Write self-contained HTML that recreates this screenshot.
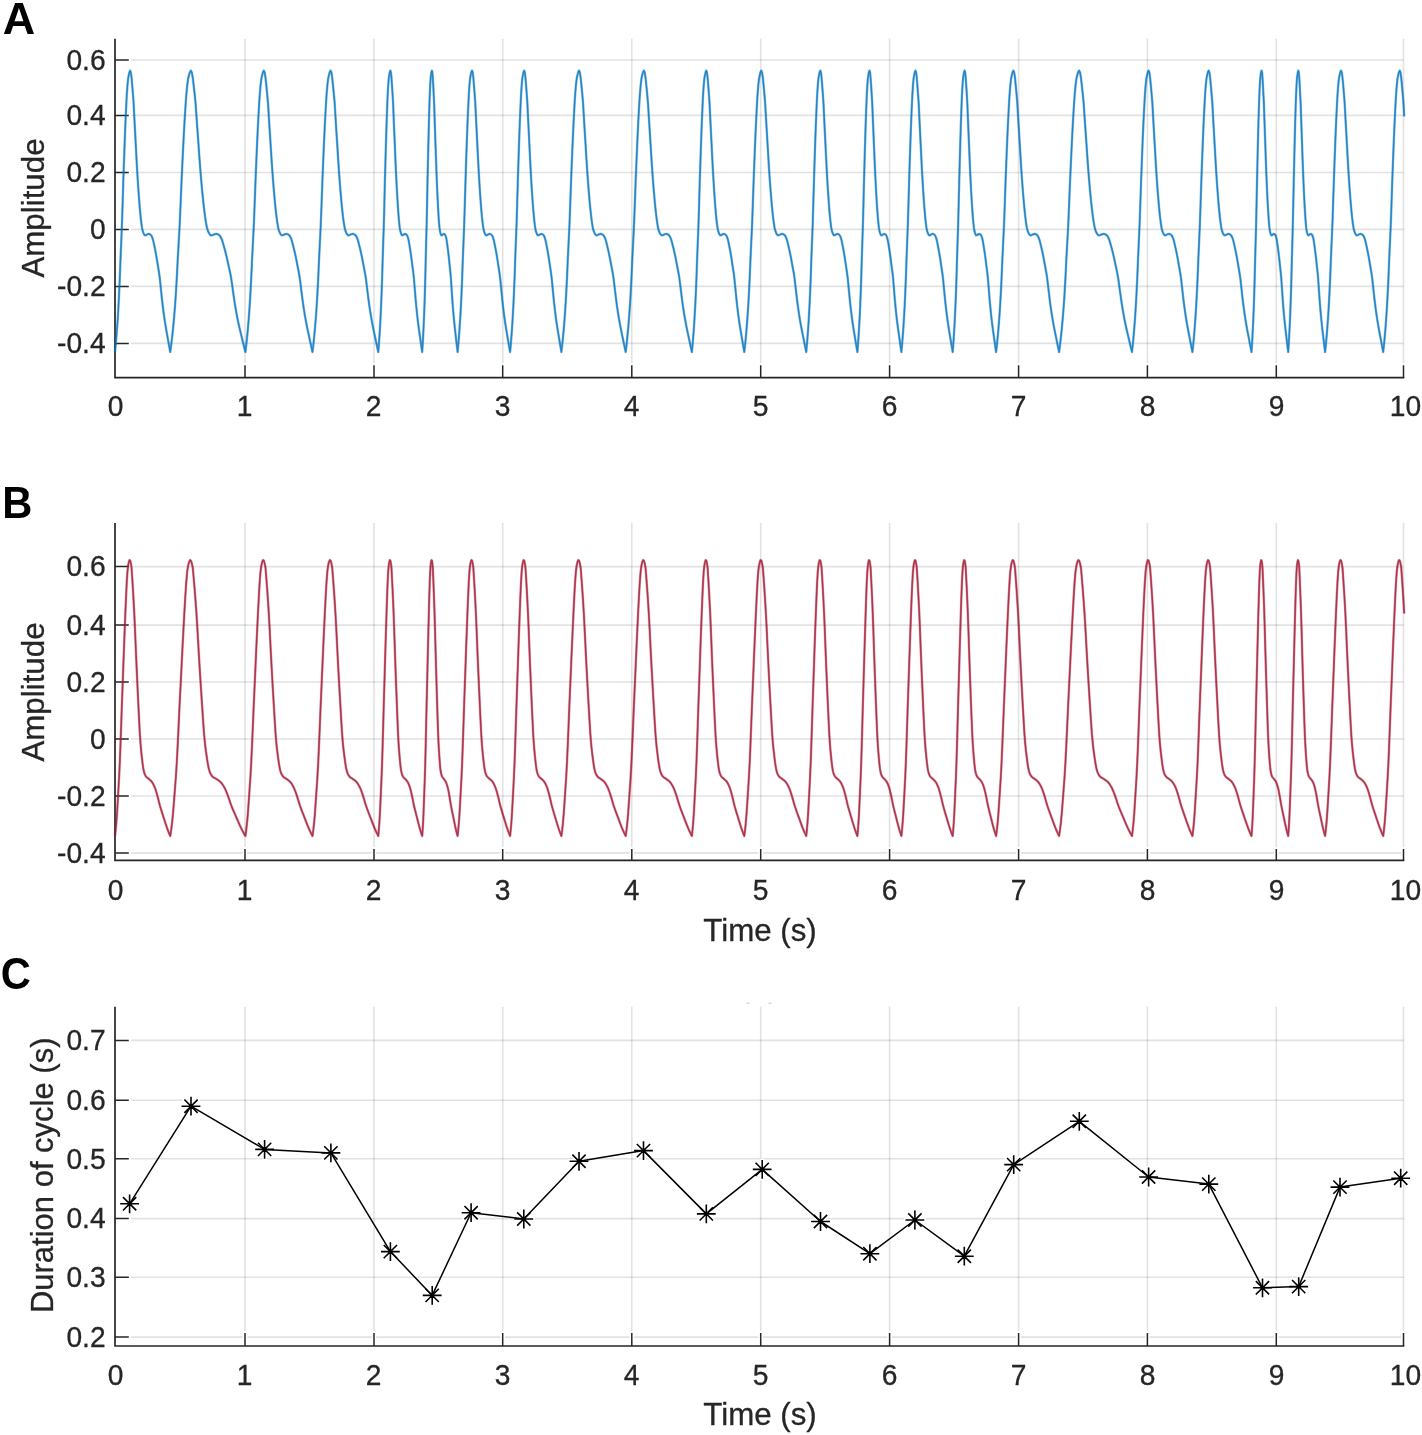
<!DOCTYPE html>
<html><head><meta charset="utf-8"><title>Figure</title>
<style>
html,body{margin:0;padding:0;background:#fff;}
body{width:1422px;height:1435px;overflow:hidden;}
svg{display:block;will-change:transform;font-family:"Liberation Sans",sans-serif;}
</style></head><body>
<svg width="1422" height="1435" viewBox="0 0 1422 1435">
<rect width="1422" height="1435" fill="#fff"/>
<path d="M245.00,38.70V377.70M374.00,38.70V377.70M502.70,38.70V377.70M631.80,38.70V377.70M760.70,38.70V377.70M889.60,38.70V377.70M1018.60,38.70V377.70M1147.40,38.70V377.70M1276.30,38.70V377.70M1403.50,38.70V377.70" fill="none" stroke="#262626" stroke-opacity="0.135" stroke-width="1.6"/>
<path d="M115.00,60.00H1403.50M115.00,115.40H1403.50M115.00,172.50H1403.50M115.00,229.40H1403.50M115.00,286.40H1403.50M115.00,343.40H1403.50" fill="none" stroke="#262626" stroke-opacity="0.135" stroke-width="1.6"/>
<path d="M245.00,377.70V363.20M374.00,377.70V363.20M502.70,377.70V363.20M631.80,377.70V363.20M760.70,377.70V363.20M889.60,377.70V363.20M1018.60,377.70V363.20M1147.40,377.70V363.20M1276.30,377.70V363.20M1403.50,377.70V363.20M115.00,60.00H131.20M115.00,115.40H131.20M115.00,172.50H131.20M115.00,229.40H131.20M115.00,286.40H131.20M115.00,343.40H131.20" fill="none" stroke="#fff" stroke-width="4.6"/>
<path d="M245.00,377.70V365.20M374.00,377.70V365.20M502.70,377.70V365.20M631.80,377.70V365.20M760.70,377.70V365.20M889.60,377.70V365.20M1018.60,377.70V365.20M1147.40,377.70V365.20M1276.30,377.70V365.20M1403.50,377.70V365.20M115.00,60.00H128.80M115.00,115.40H128.80M115.00,172.50H128.80M115.00,229.40H128.80M115.00,286.40H128.80M115.00,343.40H128.80" fill="none" stroke="#262626" stroke-width="1.5"/>
<path d="M115.00,38.70V377.70H1404.30" fill="none" stroke="#262626" stroke-width="1.7" stroke-linejoin="miter"/>
<text transform="translate(115.50,416.20) scale(1,1.04)" text-anchor="middle" font-size="28.2" fill="#262626" stroke="#262626" stroke-width="0.3">0</text>
<text transform="translate(244.50,416.20) scale(1,1.04)" text-anchor="middle" font-size="28.2" fill="#262626" stroke="#262626" stroke-width="0.3">1</text>
<text transform="translate(373.50,416.20) scale(1,1.04)" text-anchor="middle" font-size="28.2" fill="#262626" stroke="#262626" stroke-width="0.3">2</text>
<text transform="translate(502.50,416.20) scale(1,1.04)" text-anchor="middle" font-size="28.2" fill="#262626" stroke="#262626" stroke-width="0.3">3</text>
<text transform="translate(631.50,416.20) scale(1,1.04)" text-anchor="middle" font-size="28.2" fill="#262626" stroke="#262626" stroke-width="0.3">4</text>
<text transform="translate(760.50,416.20) scale(1,1.04)" text-anchor="middle" font-size="28.2" fill="#262626" stroke="#262626" stroke-width="0.3">5</text>
<text transform="translate(889.50,416.20) scale(1,1.04)" text-anchor="middle" font-size="28.2" fill="#262626" stroke="#262626" stroke-width="0.3">6</text>
<text transform="translate(1018.50,416.20) scale(1,1.04)" text-anchor="middle" font-size="28.2" fill="#262626" stroke="#262626" stroke-width="0.3">7</text>
<text transform="translate(1147.50,416.20) scale(1,1.04)" text-anchor="middle" font-size="28.2" fill="#262626" stroke="#262626" stroke-width="0.3">8</text>
<text transform="translate(1276.50,416.20) scale(1,1.04)" text-anchor="middle" font-size="28.2" fill="#262626" stroke="#262626" stroke-width="0.3">9</text>
<text transform="translate(1405.50,416.20) scale(1,1.04)" text-anchor="middle" font-size="28.2" fill="#262626" stroke="#262626" stroke-width="0.3">10</text>
<text transform="translate(105.60,69.80) scale(1,1.04)" text-anchor="end" font-size="28.2" fill="#262626" stroke="#262626" stroke-width="0.3">0.6</text>
<text transform="translate(105.60,125.20) scale(1,1.04)" text-anchor="end" font-size="28.2" fill="#262626" stroke="#262626" stroke-width="0.3">0.4</text>
<text transform="translate(105.60,182.30) scale(1,1.04)" text-anchor="end" font-size="28.2" fill="#262626" stroke="#262626" stroke-width="0.3">0.2</text>
<text transform="translate(105.60,239.20) scale(1,1.04)" text-anchor="end" font-size="28.2" fill="#262626" stroke="#262626" stroke-width="0.3">0</text>
<text transform="translate(105.60,296.20) scale(1,1.04)" text-anchor="end" font-size="28.2" fill="#262626" stroke="#262626" stroke-width="0.3">-0.2</text>
<text transform="translate(105.60,353.20) scale(1,1.04)" text-anchor="end" font-size="28.2" fill="#262626" stroke="#262626" stroke-width="0.3">-0.4</text>
<defs><path id="cA" d="M115.00,352.00 L115.69,345.02 L116.38,337.09 L117.07,328.32 L117.76,318.43 L118.45,306.90 L119.14,293.37 L119.83,277.42 L120.53,258.61 L121.22,242.26 L121.91,225.78 L122.60,204.47 L123.29,181.88 L123.98,161.72 L124.67,142.63 L125.36,125.00 L126.05,109.54 L126.74,95.97 L127.43,85.81 L128.12,78.77 L128.81,74.94 L129.50,72.03 L130.19,70.64 L130.88,72.53 L131.57,77.96 L132.27,85.85 L132.96,94.46 L133.65,103.63 L134.34,117.64 L135.03,130.64 L135.72,143.63 L136.41,156.84 L137.10,169.40 L137.79,180.73 L138.48,191.04 L139.17,200.29 L139.86,208.87 L140.55,216.23 L141.24,222.33 L141.93,227.38 L142.62,230.64 L143.32,232.70 L144.01,234.15 L144.70,235.20 L145.39,235.36 L146.08,235.05 L146.77,234.64 L147.46,234.32 L148.15,234.02 L148.84,233.90 L149.53,234.07 L150.22,234.48 L150.91,235.03 L151.60,236.00 L152.29,237.63 L152.98,239.69 L153.68,242.62 L154.37,245.93 L155.06,249.28 L155.75,252.87 L156.44,256.72 L157.13,260.92 L157.82,265.28 L158.51,269.47 L159.20,273.76 L159.89,279.02 L160.58,285.78 L161.27,292.49 L161.96,299.18 L162.65,305.20 L163.34,310.67 L164.03,315.76 L164.72,320.51 L165.42,324.92 L166.11,329.02 L166.80,332.94 L167.49,336.78 L168.18,340.66 L168.87,344.50 L169.56,348.28 L170.25,352.00 L171.19,345.02 L172.13,337.09 L173.07,328.32 L174.01,318.43 L174.95,306.90 L175.89,293.37 L176.83,277.42 L177.76,258.61 L178.70,242.26 L179.64,225.78 L180.58,204.47 L181.52,181.88 L182.46,161.72 L183.40,142.63 L184.34,125.00 L185.28,109.54 L186.22,95.97 L187.16,85.81 L188.10,78.77 L189.04,74.94 L189.98,72.03 L190.92,70.64 L191.86,72.53 L192.80,77.96 L193.73,85.85 L194.67,94.46 L195.61,103.63 L196.55,117.64 L197.49,130.64 L198.43,143.63 L199.37,156.84 L200.31,169.40 L201.25,180.73 L202.19,191.04 L203.13,200.29 L204.07,208.87 L205.01,216.23 L205.95,222.33 L206.89,227.38 L207.82,230.64 L208.76,232.70 L209.70,234.15 L210.64,235.20 L211.58,235.36 L212.52,235.05 L213.46,234.64 L214.40,234.32 L215.34,234.02 L216.28,233.90 L217.22,234.07 L218.16,234.48 L219.10,235.03 L220.04,236.00 L220.98,237.63 L221.92,239.69 L222.86,242.62 L223.79,245.93 L224.73,249.28 L225.67,252.87 L226.61,256.72 L227.55,260.92 L228.49,265.28 L229.43,269.47 L230.37,273.76 L231.31,279.02 L232.25,285.78 L233.19,292.49 L234.13,299.18 L235.07,305.20 L236.01,310.67 L236.95,315.76 L237.88,320.51 L238.82,324.92 L239.76,329.02 L240.70,332.94 L241.64,336.78 L242.58,340.66 L243.52,344.50 L244.46,348.28 L245.40,352.00 L246.24,345.02 L247.08,337.09 L247.92,328.32 L248.75,318.43 L249.59,306.90 L250.43,293.37 L251.27,277.42 L252.11,258.61 L252.95,242.26 L253.79,225.78 L254.63,204.47 L255.47,181.88 L256.30,161.72 L257.14,142.63 L257.98,125.00 L258.82,109.54 L259.66,95.97 L260.50,85.81 L261.34,78.77 L262.18,74.94 L263.01,72.03 L263.85,70.64 L264.69,72.53 L265.53,77.96 L266.37,85.85 L267.21,94.46 L268.05,103.63 L268.88,117.64 L269.72,130.64 L270.56,143.63 L271.40,156.84 L272.24,169.40 L273.08,180.73 L273.92,191.04 L274.76,200.29 L275.60,208.87 L276.43,216.23 L277.27,222.33 L278.11,227.38 L278.95,230.64 L279.79,232.70 L280.63,234.15 L281.47,235.20 L282.31,235.36 L283.14,235.05 L283.98,234.64 L284.82,234.32 L285.66,234.02 L286.50,233.90 L287.34,234.07 L288.18,234.48 L289.01,235.03 L289.85,236.00 L290.69,237.63 L291.53,239.69 L292.37,242.62 L293.21,245.93 L294.05,249.28 L294.89,252.87 L295.73,256.72 L296.56,260.92 L297.40,265.28 L298.24,269.47 L299.08,273.76 L299.92,279.02 L300.76,285.78 L301.60,292.49 L302.44,299.18 L303.27,305.20 L304.11,310.67 L304.95,315.76 L305.79,320.51 L306.63,324.92 L307.47,329.02 L308.31,332.94 L309.14,336.78 L309.98,340.66 L310.82,344.50 L311.66,348.28 L312.50,352.00 L313.32,345.02 L314.14,337.09 L314.97,328.32 L315.79,318.43 L316.61,306.90 L317.44,293.37 L318.26,277.42 L319.08,258.61 L319.90,242.26 L320.73,225.78 L321.55,204.47 L322.37,181.88 L323.19,161.72 L324.01,142.63 L324.84,125.00 L325.66,109.54 L326.48,95.97 L327.31,85.81 L328.13,78.77 L328.95,74.94 L329.77,72.03 L330.60,70.64 L331.42,72.53 L332.24,77.96 L333.06,85.85 L333.88,94.46 L334.71,103.63 L335.53,117.64 L336.35,130.64 L337.18,143.63 L338.00,156.84 L338.82,169.40 L339.64,180.73 L340.47,191.04 L341.29,200.29 L342.11,208.87 L342.93,216.23 L343.75,222.33 L344.58,227.38 L345.40,230.64 L346.22,232.70 L347.05,234.15 L347.87,235.20 L348.69,235.36 L349.51,235.05 L350.34,234.64 L351.16,234.32 L351.98,234.02 L352.80,233.90 L353.62,234.07 L354.45,234.48 L355.27,235.03 L356.09,236.00 L356.92,237.63 L357.74,239.69 L358.56,242.62 L359.38,245.93 L360.21,249.28 L361.03,252.87 L361.85,256.72 L362.67,260.92 L363.50,265.28 L364.32,269.47 L365.14,273.76 L365.96,279.02 L366.79,285.78 L367.61,292.49 L368.43,299.18 L369.25,305.20 L370.07,310.67 L370.90,315.76 L371.72,320.51 L372.54,324.92 L373.37,329.02 L374.19,332.94 L375.01,336.78 L375.83,340.66 L376.66,344.50 L377.48,348.28 L378.30,352.00 L378.85,345.02 L379.40,337.09 L379.95,328.32 L380.50,318.43 L381.04,306.90 L381.59,293.37 L382.14,277.42 L382.69,258.61 L383.24,242.26 L383.79,225.78 L384.34,204.47 L384.88,181.88 L385.43,161.72 L385.98,142.63 L386.53,125.00 L387.08,109.54 L387.63,95.97 L388.18,85.81 L388.73,78.77 L389.27,74.94 L389.82,72.03 L390.37,70.64 L390.92,72.53 L391.47,77.96 L392.02,85.85 L392.57,94.46 L393.12,103.63 L393.67,117.64 L394.21,130.64 L394.76,143.63 L395.31,156.84 L395.86,169.40 L396.41,180.73 L396.96,191.04 L397.51,200.29 L398.06,208.87 L398.60,216.23 L399.15,222.33 L399.70,227.38 L400.25,230.64 L400.80,232.70 L401.35,234.15 L401.90,235.20 L402.44,235.36 L402.99,235.05 L403.54,234.64 L404.09,234.32 L404.64,234.02 L405.19,233.90 L405.74,234.07 L406.29,234.48 L406.83,235.03 L407.38,236.00 L407.93,237.63 L408.48,239.69 L409.03,242.62 L409.58,245.93 L410.13,249.28 L410.68,252.87 L411.23,256.72 L411.77,260.92 L412.32,265.28 L412.87,269.47 L413.42,273.76 L413.97,279.02 L414.52,285.78 L415.07,292.49 L415.62,299.18 L416.16,305.20 L416.71,310.67 L417.26,315.76 L417.81,320.51 L418.36,324.92 L418.91,329.02 L419.46,332.94 L420.00,336.78 L420.55,340.66 L421.10,344.50 L421.65,348.28 L422.20,352.00 L422.64,345.02 L423.08,337.09 L423.53,328.32 L423.97,318.43 L424.41,306.90 L424.86,293.37 L425.30,277.42 L425.74,258.61 L426.18,242.26 L426.62,225.78 L427.07,204.47 L427.51,181.88 L427.95,161.72 L428.39,142.63 L428.84,125.00 L429.28,109.54 L429.72,95.97 L430.17,85.81 L430.61,78.77 L431.05,74.94 L431.49,72.03 L431.94,70.64 L432.38,72.53 L432.82,77.96 L433.26,85.85 L433.70,94.46 L434.15,103.63 L434.59,117.64 L435.03,130.64 L435.48,143.63 L435.92,156.84 L436.36,169.40 L436.80,180.73 L437.25,191.04 L437.69,200.29 L438.13,208.87 L438.57,216.23 L439.01,222.33 L439.46,227.38 L439.90,230.64 L440.34,232.70 L440.79,234.15 L441.23,235.20 L441.67,235.36 L442.11,235.05 L442.56,234.64 L443.00,234.32 L443.44,234.02 L443.88,233.90 L444.32,234.07 L444.77,234.48 L445.21,235.03 L445.65,236.00 L446.10,237.63 L446.54,239.69 L446.98,242.62 L447.42,245.93 L447.87,249.28 L448.31,252.87 L448.75,256.72 L449.19,260.92 L449.63,265.28 L450.08,269.47 L450.52,273.76 L450.96,279.02 L451.41,285.78 L451.85,292.49 L452.29,299.18 L452.73,305.20 L453.18,310.67 L453.62,315.76 L454.06,320.51 L454.50,324.92 L454.95,329.02 L455.39,332.94 L455.83,336.78 L456.27,340.66 L456.72,344.50 L457.16,348.28 L457.60,352.00 L458.26,345.02 L458.91,337.09 L459.57,328.32 L460.23,318.43 L460.88,306.90 L461.54,293.37 L462.19,277.42 L462.85,258.61 L463.51,242.26 L464.16,225.78 L464.82,204.47 L465.48,181.88 L466.13,161.72 L466.79,142.63 L467.44,125.00 L468.10,109.54 L468.76,95.97 L469.41,85.81 L470.07,78.77 L470.73,74.94 L471.38,72.03 L472.04,70.64 L472.69,72.53 L473.35,77.96 L474.01,85.85 L474.66,94.46 L475.32,103.63 L475.98,117.64 L476.63,130.64 L477.29,143.63 L477.94,156.84 L478.60,169.40 L479.26,180.73 L479.91,191.04 L480.57,200.29 L481.23,208.87 L481.88,216.23 L482.54,222.33 L483.19,227.38 L483.85,230.64 L484.51,232.70 L485.16,234.15 L485.82,235.20 L486.48,235.36 L487.13,235.05 L487.79,234.64 L488.44,234.32 L489.10,234.02 L489.76,233.90 L490.41,234.07 L491.07,234.48 L491.73,235.03 L492.38,236.00 L493.04,237.63 L493.69,239.69 L494.35,242.62 L495.01,245.93 L495.66,249.28 L496.32,252.87 L496.98,256.72 L497.63,260.92 L498.29,265.28 L498.94,269.47 L499.60,273.76 L500.26,279.02 L500.91,285.78 L501.57,292.49 L502.23,299.18 L502.88,305.20 L503.54,310.67 L504.19,315.76 L504.85,320.51 L505.51,324.92 L506.16,329.02 L506.82,332.94 L507.48,336.78 L508.13,340.66 L508.79,344.50 L509.44,348.28 L510.10,352.00 L510.74,345.02 L511.38,337.09 L512.02,328.32 L512.66,318.43 L513.31,306.90 L513.95,293.37 L514.59,277.42 L515.23,258.61 L515.87,242.26 L516.51,225.78 L517.15,204.47 L517.80,181.88 L518.44,161.72 L519.08,142.63 L519.72,125.00 L520.36,109.54 L521.00,95.97 L521.64,85.81 L522.28,78.77 L522.92,74.94 L523.57,72.03 L524.21,70.64 L524.85,72.53 L525.49,77.96 L526.13,85.85 L526.77,94.46 L527.41,103.63 L528.06,117.64 L528.70,130.64 L529.34,143.63 L529.98,156.84 L530.62,169.40 L531.26,180.73 L531.90,191.04 L532.54,200.29 L533.18,208.87 L533.83,216.23 L534.47,222.33 L535.11,227.38 L535.75,230.64 L536.39,232.70 L537.03,234.15 L537.67,235.20 L538.32,235.36 L538.96,235.05 L539.60,234.64 L540.24,234.32 L540.88,234.02 L541.52,233.90 L542.16,234.07 L542.80,234.48 L543.44,235.03 L544.09,236.00 L544.73,237.63 L545.37,239.69 L546.01,242.62 L546.65,245.93 L547.29,249.28 L547.93,252.87 L548.58,256.72 L549.22,260.92 L549.86,265.28 L550.50,269.47 L551.14,273.76 L551.78,279.02 L552.42,285.78 L553.06,292.49 L553.71,299.18 L554.35,305.20 L554.99,310.67 L555.63,315.76 L556.27,320.51 L556.91,324.92 L557.55,329.02 L558.19,332.94 L558.84,336.78 L559.48,340.66 L560.12,344.50 L560.76,348.28 L561.40,352.00 L562.20,345.02 L563.01,337.09 L563.81,328.32 L564.62,318.43 L565.42,306.90 L566.22,293.37 L567.03,277.42 L567.83,258.61 L568.63,242.26 L569.44,225.78 L570.24,204.47 L571.04,181.88 L571.85,161.72 L572.65,142.63 L573.46,125.00 L574.26,109.54 L575.06,95.97 L575.87,85.81 L576.67,78.77 L577.48,74.94 L578.28,72.03 L579.08,70.64 L579.89,72.53 L580.69,77.96 L581.49,85.85 L582.30,94.46 L583.10,103.63 L583.90,117.64 L584.71,130.64 L585.51,143.63 L586.32,156.84 L587.12,169.40 L587.92,180.73 L588.73,191.04 L589.53,200.29 L590.34,208.87 L591.14,216.23 L591.94,222.33 L592.75,227.38 L593.55,230.64 L594.35,232.70 L595.16,234.15 L595.96,235.20 L596.76,235.36 L597.57,235.05 L598.37,234.64 L599.18,234.32 L599.98,234.02 L600.78,233.90 L601.59,234.07 L602.39,234.48 L603.20,235.03 L604.00,236.00 L604.80,237.63 L605.61,239.69 L606.41,242.62 L607.21,245.93 L608.02,249.28 L608.82,252.87 L609.62,256.72 L610.43,260.92 L611.23,265.28 L612.04,269.47 L612.84,273.76 L613.64,279.02 L614.45,285.78 L615.25,292.49 L616.06,299.18 L616.86,305.20 L617.66,310.67 L618.47,315.76 L619.27,320.51 L620.07,324.92 L620.88,329.02 L621.68,332.94 L622.49,336.78 L623.29,340.66 L624.09,344.50 L624.90,348.28 L625.70,352.00 L626.53,345.02 L627.36,337.09 L628.18,328.32 L629.01,318.43 L629.84,306.90 L630.67,293.37 L631.49,277.42 L632.32,258.61 L633.15,242.26 L633.98,225.78 L634.80,204.47 L635.63,181.88 L636.46,161.72 L637.29,142.63 L638.11,125.00 L638.94,109.54 L639.77,95.97 L640.60,85.81 L641.42,78.77 L642.25,74.94 L643.08,72.03 L643.90,70.64 L644.73,72.53 L645.56,77.96 L646.39,85.85 L647.22,94.46 L648.04,103.63 L648.87,117.64 L649.70,130.64 L650.52,143.63 L651.35,156.84 L652.18,169.40 L653.01,180.73 L653.84,191.04 L654.66,200.29 L655.49,208.87 L656.32,216.23 L657.14,222.33 L657.97,227.38 L658.80,230.64 L659.63,232.70 L660.46,234.15 L661.28,235.20 L662.11,235.36 L662.94,235.05 L663.76,234.64 L664.59,234.32 L665.42,234.02 L666.25,233.90 L667.08,234.07 L667.90,234.48 L668.73,235.03 L669.56,236.00 L670.38,237.63 L671.21,239.69 L672.04,242.62 L672.87,245.93 L673.70,249.28 L674.52,252.87 L675.35,256.72 L676.18,260.92 L677.00,265.28 L677.83,269.47 L678.66,273.76 L679.49,279.02 L680.31,285.78 L681.14,292.49 L681.97,299.18 L682.80,305.20 L683.62,310.67 L684.45,315.76 L685.28,320.51 L686.11,324.92 L686.93,329.02 L687.76,332.94 L688.59,336.78 L689.42,340.66 L690.25,344.50 L691.07,348.28 L691.90,352.00 L692.55,345.02 L693.21,337.09 L693.87,328.32 L694.52,318.43 L695.17,306.90 L695.83,293.37 L696.49,277.42 L697.14,258.61 L697.79,242.26 L698.45,225.78 L699.11,204.47 L699.76,181.88 L700.41,161.72 L701.07,142.63 L701.73,125.00 L702.38,109.54 L703.03,95.97 L703.69,85.81 L704.35,78.77 L705.00,74.94 L705.65,72.03 L706.31,70.64 L706.96,72.53 L707.62,77.96 L708.27,85.85 L708.93,94.46 L709.58,103.63 L710.24,117.64 L710.89,130.64 L711.55,143.63 L712.20,156.84 L712.86,169.40 L713.51,180.73 L714.17,191.04 L714.82,200.29 L715.48,208.87 L716.13,216.23 L716.79,222.33 L717.44,227.38 L718.10,230.64 L718.75,232.70 L719.41,234.15 L720.06,235.20 L720.72,235.36 L721.38,235.05 L722.03,234.64 L722.68,234.32 L723.34,234.02 L724.00,233.90 L724.65,234.07 L725.30,234.48 L725.96,235.03 L726.62,236.00 L727.27,237.63 L727.92,239.69 L728.58,242.62 L729.24,245.93 L729.89,249.28 L730.54,252.87 L731.20,256.72 L731.86,260.92 L732.51,265.28 L733.16,269.47 L733.82,273.76 L734.47,279.02 L735.13,285.78 L735.78,292.49 L736.44,299.18 L737.09,305.20 L737.75,310.67 L738.40,315.76 L739.06,320.51 L739.71,324.92 L740.37,329.02 L741.02,332.94 L741.68,336.78 L742.33,340.66 L742.99,344.50 L743.64,348.28 L744.30,352.00 L745.07,345.02 L745.85,337.09 L746.62,328.32 L747.40,318.43 L748.17,306.90 L748.95,293.37 L749.72,277.42 L750.50,258.61 L751.27,242.26 L752.04,225.78 L752.82,204.47 L753.59,181.88 L754.37,161.72 L755.14,142.63 L755.92,125.00 L756.69,109.54 L757.46,95.97 L758.24,85.81 L759.01,78.77 L759.79,74.94 L760.56,72.03 L761.34,70.64 L762.11,72.53 L762.88,77.96 L763.66,85.85 L764.43,94.46 L765.21,103.63 L765.98,117.64 L766.76,130.64 L767.53,143.63 L768.31,156.84 L769.08,169.40 L769.85,180.73 L770.63,191.04 L771.40,200.29 L772.18,208.87 L772.95,216.23 L773.73,222.33 L774.50,227.38 L775.27,230.64 L776.05,232.70 L776.82,234.15 L777.60,235.20 L778.37,235.36 L779.15,235.05 L779.92,234.64 L780.70,234.32 L781.47,234.02 L782.24,233.90 L783.02,234.07 L783.79,234.48 L784.57,235.03 L785.34,236.00 L786.12,237.63 L786.89,239.69 L787.66,242.62 L788.44,245.93 L789.21,249.28 L789.99,252.87 L790.76,256.72 L791.54,260.92 L792.31,265.28 L793.09,269.47 L793.86,273.76 L794.63,279.02 L795.41,285.78 L796.18,292.49 L796.96,299.18 L797.73,305.20 L798.51,310.67 L799.28,315.76 L800.05,320.51 L800.83,324.92 L801.60,329.02 L802.38,332.94 L803.15,336.78 L803.93,340.66 L804.70,344.50 L805.48,348.28 L806.25,352.00 L806.89,345.02 L807.53,337.09 L808.17,328.32 L808.81,318.43 L809.45,306.90 L810.09,293.37 L810.73,277.42 L811.37,258.61 L812.00,242.26 L812.64,225.78 L813.28,204.47 L813.92,181.88 L814.56,161.72 L815.20,142.63 L815.84,125.00 L816.48,109.54 L817.12,95.97 L817.76,85.81 L818.40,78.77 L819.04,74.94 L819.68,72.03 L820.32,70.64 L820.96,72.53 L821.60,77.96 L822.23,85.85 L822.87,94.46 L823.51,103.63 L824.15,117.64 L824.79,130.64 L825.43,143.63 L826.07,156.84 L826.71,169.40 L827.35,180.73 L827.99,191.04 L828.63,200.29 L829.27,208.87 L829.91,216.23 L830.55,222.33 L831.19,227.38 L831.83,230.64 L832.46,232.70 L833.10,234.15 L833.74,235.20 L834.38,235.36 L835.02,235.05 L835.66,234.64 L836.30,234.32 L836.94,234.02 L837.58,233.90 L838.22,234.07 L838.86,234.48 L839.50,235.03 L840.14,236.00 L840.78,237.63 L841.42,239.69 L842.05,242.62 L842.69,245.93 L843.33,249.28 L843.97,252.87 L844.61,256.72 L845.25,260.92 L845.89,265.28 L846.53,269.47 L847.17,273.76 L847.81,279.02 L848.45,285.78 L849.09,292.49 L849.73,299.18 L850.37,305.20 L851.01,310.67 L851.65,315.76 L852.28,320.51 L852.92,324.92 L853.56,329.02 L854.20,332.94 L854.84,336.78 L855.48,340.66 L856.12,344.50 L856.76,348.28 L857.40,352.00 L857.95,345.02 L858.50,337.09 L859.05,328.32 L859.60,318.43 L860.15,306.90 L860.70,293.37 L861.25,277.42 L861.80,258.61 L862.35,242.26 L862.90,225.78 L863.45,204.47 L864.00,181.88 L864.55,161.72 L865.10,142.63 L865.65,125.00 L866.20,109.54 L866.75,95.97 L867.30,85.81 L867.85,78.77 L868.40,74.94 L868.95,72.03 L869.50,70.64 L870.05,72.53 L870.60,77.96 L871.15,85.85 L871.70,94.46 L872.25,103.63 L872.80,117.64 L873.35,130.64 L873.90,143.63 L874.45,156.84 L875.00,169.40 L875.55,180.73 L876.10,191.04 L876.65,200.29 L877.20,208.87 L877.75,216.23 L878.30,222.33 L878.85,227.38 L879.40,230.64 L879.95,232.70 L880.50,234.15 L881.05,235.20 L881.60,235.36 L882.15,235.05 L882.70,234.64 L883.25,234.32 L883.80,234.02 L884.35,233.90 L884.90,234.07 L885.45,234.48 L886.00,235.03 L886.55,236.00 L887.10,237.63 L887.65,239.69 L888.20,242.62 L888.75,245.93 L889.30,249.28 L889.85,252.87 L890.40,256.72 L890.95,260.92 L891.50,265.28 L892.05,269.47 L892.60,273.76 L893.15,279.02 L893.70,285.78 L894.25,292.49 L894.80,299.18 L895.35,305.20 L895.90,310.67 L896.45,315.76 L897.00,320.51 L897.55,324.92 L898.10,329.02 L898.65,332.94 L899.20,336.78 L899.75,340.66 L900.30,344.50 L900.85,348.28 L901.40,352.00 L902.04,345.02 L902.68,337.09 L903.32,328.32 L903.97,318.43 L904.61,306.90 L905.25,293.37 L905.89,277.42 L906.53,258.61 L907.17,242.26 L907.81,225.78 L908.45,204.47 L909.10,181.88 L909.74,161.72 L910.38,142.63 L911.02,125.00 L911.66,109.54 L912.30,95.97 L912.94,85.81 L913.58,78.77 L914.23,74.94 L914.87,72.03 L915.51,70.64 L916.15,72.53 L916.79,77.96 L917.43,85.85 L918.07,94.46 L918.71,103.63 L919.36,117.64 L920.00,130.64 L920.64,143.63 L921.28,156.84 L921.92,169.40 L922.56,180.73 L923.20,191.04 L923.84,200.29 L924.49,208.87 L925.13,216.23 L925.77,222.33 L926.41,227.38 L927.05,230.64 L927.69,232.70 L928.33,234.15 L928.97,235.20 L929.62,235.36 L930.26,235.05 L930.90,234.64 L931.54,234.32 L932.18,234.02 L932.82,233.90 L933.46,234.07 L934.10,234.48 L934.75,235.03 L935.39,236.00 L936.03,237.63 L936.67,239.69 L937.31,242.62 L937.95,245.93 L938.59,249.28 L939.23,252.87 L939.88,256.72 L940.52,260.92 L941.16,265.28 L941.80,269.47 L942.44,273.76 L943.08,279.02 L943.72,285.78 L944.36,292.49 L945.00,299.18 L945.65,305.20 L946.29,310.67 L946.93,315.76 L947.57,320.51 L948.21,324.92 L948.85,329.02 L949.49,332.94 L950.13,336.78 L950.78,340.66 L951.42,344.50 L952.06,348.28 L952.70,352.00 L953.24,345.02 L953.79,337.09 L954.33,328.32 L954.87,318.43 L955.41,306.90 L955.96,293.37 L956.50,277.42 L957.04,258.61 L957.58,242.26 L958.12,225.78 L958.67,204.47 L959.21,181.88 L959.75,161.72 L960.30,142.63 L960.84,125.00 L961.38,109.54 L961.92,95.97 L962.47,85.81 L963.01,78.77 L963.55,74.94 L964.09,72.03 L964.63,70.64 L965.18,72.53 L965.72,77.96 L966.26,85.85 L966.81,94.46 L967.35,103.63 L967.89,117.64 L968.43,130.64 L968.98,143.63 L969.52,156.84 L970.06,169.40 L970.60,180.73 L971.14,191.04 L971.69,200.29 L972.23,208.87 L972.77,216.23 L973.32,222.33 L973.86,227.38 L974.40,230.64 L974.94,232.70 L975.49,234.15 L976.03,235.20 L976.57,235.36 L977.11,235.05 L977.66,234.64 L978.20,234.32 L978.74,234.02 L979.28,233.90 L979.83,234.07 L980.37,234.48 L980.91,235.03 L981.45,236.00 L982.00,237.63 L982.54,239.69 L983.08,242.62 L983.62,245.93 L984.17,249.28 L984.71,252.87 L985.25,256.72 L985.79,260.92 L986.34,265.28 L986.88,269.47 L987.42,273.76 L987.96,279.02 L988.50,285.78 L989.05,292.49 L989.59,299.18 L990.13,305.20 L990.68,310.67 L991.22,315.76 L991.76,320.51 L992.30,324.92 L992.85,329.02 L993.39,332.94 L993.93,336.78 L994.47,340.66 L995.01,344.50 L995.56,348.28 L996.10,352.00 L996.89,345.02 L997.68,337.09 L998.46,328.32 L999.25,318.43 L1000.04,306.90 L1000.83,293.37 L1001.61,277.42 L1002.40,258.61 L1003.19,242.26 L1003.98,225.78 L1004.76,204.47 L1005.55,181.88 L1006.34,161.72 L1007.12,142.63 L1007.91,125.00 L1008.70,109.54 L1009.49,95.97 L1010.27,85.81 L1011.06,78.77 L1011.85,74.94 L1012.64,72.03 L1013.42,70.64 L1014.21,72.53 L1015.00,77.96 L1015.79,85.85 L1016.57,94.46 L1017.36,103.63 L1018.15,117.64 L1018.94,130.64 L1019.73,143.63 L1020.51,156.84 L1021.30,169.40 L1022.09,180.73 L1022.88,191.04 L1023.66,200.29 L1024.45,208.87 L1025.24,216.23 L1026.02,222.33 L1026.81,227.38 L1027.60,230.64 L1028.39,232.70 L1029.17,234.15 L1029.96,235.20 L1030.75,235.36 L1031.54,235.05 L1032.33,234.64 L1033.11,234.32 L1033.90,234.02 L1034.69,233.90 L1035.47,234.07 L1036.26,234.48 L1037.05,235.03 L1037.84,236.00 L1038.62,237.63 L1039.41,239.69 L1040.20,242.62 L1040.99,245.93 L1041.77,249.28 L1042.56,252.87 L1043.35,256.72 L1044.14,260.92 L1044.92,265.28 L1045.71,269.47 L1046.50,273.76 L1047.29,279.02 L1048.07,285.78 L1048.86,292.49 L1049.65,299.18 L1050.44,305.20 L1051.22,310.67 L1052.01,315.76 L1052.80,320.51 L1053.59,324.92 L1054.38,329.02 L1055.16,332.94 L1055.95,336.78 L1056.74,340.66 L1057.52,344.50 L1058.31,348.28 L1059.10,352.00 L1060.01,345.02 L1060.92,337.09 L1061.83,328.32 L1062.74,318.43 L1063.66,306.90 L1064.57,293.37 L1065.48,277.42 L1066.39,258.61 L1067.30,242.26 L1068.21,225.78 L1069.12,204.47 L1070.03,181.88 L1070.95,161.72 L1071.86,142.63 L1072.77,125.00 L1073.68,109.54 L1074.59,95.97 L1075.50,85.81 L1076.41,78.77 L1077.32,74.94 L1078.24,72.03 L1079.15,70.64 L1080.06,72.53 L1080.97,77.96 L1081.88,85.85 L1082.79,94.46 L1083.70,103.63 L1084.62,117.64 L1085.53,130.64 L1086.44,143.63 L1087.35,156.84 L1088.26,169.40 L1089.17,180.73 L1090.08,191.04 L1090.99,200.29 L1091.90,208.87 L1092.82,216.23 L1093.73,222.33 L1094.64,227.38 L1095.55,230.64 L1096.46,232.70 L1097.37,234.15 L1098.28,235.20 L1099.19,235.36 L1100.11,235.05 L1101.02,234.64 L1101.93,234.32 L1102.84,234.02 L1103.75,233.90 L1104.66,234.07 L1105.57,234.48 L1106.48,235.03 L1107.40,236.00 L1108.31,237.63 L1109.22,239.69 L1110.13,242.62 L1111.04,245.93 L1111.95,249.28 L1112.86,252.87 L1113.78,256.72 L1114.69,260.92 L1115.60,265.28 L1116.51,269.47 L1117.42,273.76 L1118.33,279.02 L1119.24,285.78 L1120.15,292.49 L1121.07,299.18 L1121.98,305.20 L1122.89,310.67 L1123.80,315.76 L1124.71,320.51 L1125.62,324.92 L1126.53,329.02 L1127.44,332.94 L1128.36,336.78 L1129.27,340.66 L1130.18,344.50 L1131.09,348.28 L1132.00,352.00 L1132.76,345.02 L1133.51,337.09 L1134.27,328.32 L1135.02,318.43 L1135.78,306.90 L1136.53,293.37 L1137.29,277.42 L1138.05,258.61 L1138.80,242.26 L1139.56,225.78 L1140.31,204.47 L1141.07,181.88 L1141.82,161.72 L1142.58,142.63 L1143.33,125.00 L1144.09,109.54 L1144.85,95.97 L1145.60,85.81 L1146.36,78.77 L1147.11,74.94 L1147.87,72.03 L1148.62,70.64 L1149.38,72.53 L1150.13,77.96 L1150.89,85.85 L1151.65,94.46 L1152.40,103.63 L1153.16,117.64 L1153.91,130.64 L1154.67,143.63 L1155.42,156.84 L1156.18,169.40 L1156.94,180.73 L1157.69,191.04 L1158.45,200.29 L1159.20,208.87 L1159.96,216.23 L1160.71,222.33 L1161.47,227.38 L1162.22,230.64 L1162.98,232.70 L1163.74,234.15 L1164.49,235.20 L1165.25,235.36 L1166.00,235.05 L1166.76,234.64 L1167.51,234.32 L1168.27,234.02 L1169.03,233.90 L1169.78,234.07 L1170.54,234.48 L1171.29,235.03 L1172.05,236.00 L1172.80,237.63 L1173.56,239.69 L1174.32,242.62 L1175.07,245.93 L1175.83,249.28 L1176.58,252.87 L1177.34,256.72 L1178.09,260.92 L1178.85,265.28 L1179.60,269.47 L1180.36,273.76 L1181.12,279.02 L1181.87,285.78 L1182.63,292.49 L1183.38,299.18 L1184.14,305.20 L1184.89,310.67 L1185.65,315.76 L1186.40,320.51 L1187.16,324.92 L1187.92,329.02 L1188.67,332.94 L1189.43,336.78 L1190.18,340.66 L1190.94,344.50 L1191.69,348.28 L1192.45,352.00 L1193.19,345.02 L1193.93,337.09 L1194.66,328.32 L1195.40,318.43 L1196.14,306.90 L1196.88,293.37 L1197.62,277.42 L1198.36,258.61 L1199.09,242.26 L1199.83,225.78 L1200.57,204.47 L1201.31,181.88 L1202.05,161.72 L1202.78,142.63 L1203.52,125.00 L1204.26,109.54 L1205.00,95.97 L1205.74,85.81 L1206.47,78.77 L1207.21,74.94 L1207.95,72.03 L1208.69,70.64 L1209.43,72.53 L1210.16,77.96 L1210.90,85.85 L1211.64,94.46 L1212.38,103.63 L1213.12,117.64 L1213.86,130.64 L1214.59,143.63 L1215.33,156.84 L1216.07,169.40 L1216.81,180.73 L1217.55,191.04 L1218.28,200.29 L1219.02,208.87 L1219.76,216.23 L1220.50,222.33 L1221.24,227.38 L1221.97,230.64 L1222.71,232.70 L1223.45,234.15 L1224.19,235.20 L1224.93,235.36 L1225.67,235.05 L1226.40,234.64 L1227.14,234.32 L1227.88,234.02 L1228.62,233.90 L1229.36,234.07 L1230.09,234.48 L1230.83,235.03 L1231.57,236.00 L1232.31,237.63 L1233.05,239.69 L1233.79,242.62 L1234.52,245.93 L1235.26,249.28 L1236.00,252.87 L1236.74,256.72 L1237.48,260.92 L1238.21,265.28 L1238.95,269.47 L1239.69,273.76 L1240.43,279.02 L1241.17,285.78 L1241.90,292.49 L1242.64,299.18 L1243.38,305.20 L1244.12,310.67 L1244.86,315.76 L1245.60,320.51 L1246.33,324.92 L1247.07,329.02 L1247.81,332.94 L1248.55,336.78 L1249.29,340.66 L1250.02,344.50 L1250.76,348.28 L1251.50,352.00 L1251.96,345.02 L1252.42,337.09 L1252.88,328.32 L1253.34,318.43 L1253.79,306.90 L1254.25,293.37 L1254.71,277.42 L1255.17,258.61 L1255.63,242.26 L1256.09,225.78 L1256.55,204.47 L1257.01,181.88 L1257.46,161.72 L1257.92,142.63 L1258.38,125.00 L1258.84,109.54 L1259.30,95.97 L1259.76,85.81 L1260.22,78.77 L1260.67,74.94 L1261.13,72.03 L1261.59,70.64 L1262.05,72.53 L1262.51,77.96 L1262.97,85.85 L1263.43,94.46 L1263.89,103.63 L1264.35,117.64 L1264.80,130.64 L1265.26,143.63 L1265.72,156.84 L1266.18,169.40 L1266.64,180.73 L1267.10,191.04 L1267.56,200.29 L1268.02,208.87 L1268.47,216.23 L1268.93,222.33 L1269.39,227.38 L1269.85,230.64 L1270.31,232.70 L1270.77,234.15 L1271.23,235.20 L1271.68,235.36 L1272.14,235.05 L1272.60,234.64 L1273.06,234.32 L1273.52,234.02 L1273.98,233.90 L1274.44,234.07 L1274.90,234.48 L1275.36,235.03 L1275.81,236.00 L1276.27,237.63 L1276.73,239.69 L1277.19,242.62 L1277.65,245.93 L1278.11,249.28 L1278.57,252.87 L1279.03,256.72 L1279.48,260.92 L1279.94,265.28 L1280.40,269.47 L1280.86,273.76 L1281.32,279.02 L1281.78,285.78 L1282.24,292.49 L1282.69,299.18 L1283.15,305.20 L1283.61,310.67 L1284.07,315.76 L1284.53,320.51 L1284.99,324.92 L1285.45,329.02 L1285.91,332.94 L1286.37,336.78 L1286.82,340.66 L1287.28,344.50 L1287.74,348.28 L1288.20,352.00 L1288.66,345.02 L1289.12,337.09 L1289.58,328.32 L1290.05,318.43 L1290.51,306.90 L1290.97,293.37 L1291.43,277.42 L1291.89,258.61 L1292.35,242.26 L1292.81,225.78 L1293.27,204.47 L1293.74,181.88 L1294.20,161.72 L1294.66,142.63 L1295.12,125.00 L1295.58,109.54 L1296.04,95.97 L1296.50,85.81 L1296.96,78.77 L1297.42,74.94 L1297.89,72.03 L1298.35,70.64 L1298.81,72.53 L1299.27,77.96 L1299.73,85.85 L1300.19,94.46 L1300.65,103.63 L1301.12,117.64 L1301.58,130.64 L1302.04,143.63 L1302.50,156.84 L1302.96,169.40 L1303.42,180.73 L1303.88,191.04 L1304.34,200.29 L1304.81,208.87 L1305.27,216.23 L1305.73,222.33 L1306.19,227.38 L1306.65,230.64 L1307.11,232.70 L1307.57,234.15 L1308.03,235.20 L1308.49,235.36 L1308.96,235.05 L1309.42,234.64 L1309.88,234.32 L1310.34,234.02 L1310.80,233.90 L1311.26,234.07 L1311.72,234.48 L1312.18,235.03 L1312.65,236.00 L1313.11,237.63 L1313.57,239.69 L1314.03,242.62 L1314.49,245.93 L1314.95,249.28 L1315.41,252.87 L1315.88,256.72 L1316.34,260.92 L1316.80,265.28 L1317.26,269.47 L1317.72,273.76 L1318.18,279.02 L1318.64,285.78 L1319.10,292.49 L1319.56,299.18 L1320.03,305.20 L1320.49,310.67 L1320.95,315.76 L1321.41,320.51 L1321.87,324.92 L1322.33,329.02 L1322.79,332.94 L1323.25,336.78 L1323.72,340.66 L1324.18,344.50 L1324.64,348.28 L1325.10,352.00 L1325.83,345.02 L1326.55,337.09 L1327.28,328.32 L1328.00,318.43 L1328.73,306.90 L1329.46,293.37 L1330.18,277.42 L1330.91,258.61 L1331.64,242.26 L1332.36,225.78 L1333.09,204.47 L1333.81,181.88 L1334.54,161.72 L1335.27,142.63 L1335.99,125.00 L1336.72,109.54 L1337.45,95.97 L1338.17,85.81 L1338.90,78.77 L1339.62,74.94 L1340.35,72.03 L1341.08,70.64 L1341.80,72.53 L1342.53,77.96 L1343.26,85.85 L1343.98,94.46 L1344.71,103.63 L1345.43,117.64 L1346.16,130.64 L1346.89,143.63 L1347.61,156.84 L1348.34,169.40 L1349.07,180.73 L1349.79,191.04 L1350.52,200.29 L1351.24,208.87 L1351.97,216.23 L1352.70,222.33 L1353.42,227.38 L1354.15,230.64 L1354.88,232.70 L1355.60,234.15 L1356.33,235.20 L1357.06,235.36 L1357.78,235.05 L1358.51,234.64 L1359.23,234.32 L1359.96,234.02 L1360.69,233.90 L1361.41,234.07 L1362.14,234.48 L1362.87,235.03 L1363.59,236.00 L1364.32,237.63 L1365.04,239.69 L1365.77,242.62 L1366.50,245.93 L1367.22,249.28 L1367.95,252.87 L1368.67,256.72 L1369.40,260.92 L1370.13,265.28 L1370.85,269.47 L1371.58,273.76 L1372.31,279.02 L1373.03,285.78 L1373.76,292.49 L1374.49,299.18 L1375.21,305.20 L1375.94,310.67 L1376.66,315.76 L1377.39,320.51 L1378.12,324.92 L1378.84,329.02 L1379.57,332.94 L1380.30,336.78 L1381.02,340.66 L1381.75,344.50 L1382.47,348.28 L1383.20,352.00 L1383.95,345.02 L1384.71,337.09 L1385.46,328.32 L1386.21,318.43 L1386.96,306.90 L1387.72,293.37 L1388.47,277.42 L1389.22,258.61 L1389.97,242.26 L1390.73,225.78 L1391.48,204.47 L1392.23,181.88 L1392.98,161.72 L1393.74,142.63 L1394.49,125.00 L1395.24,109.54 L1395.99,95.97 L1396.75,85.81 L1397.50,78.77 L1398.25,74.94 L1399.00,72.03 L1399.76,70.64 L1400.51,72.53 L1401.26,77.96 L1402.01,85.85 L1402.77,94.46 L1403.52,103.63 L1404.20,116.33"/></defs>
<g fill="none" stroke="#0072BD" stroke-linejoin="round">
<use href="#cA" stroke-width="3" stroke-opacity="0.14"/>
<use href="#cA" stroke-width="2.1" stroke-opacity="0.5"/>
<use href="#cA" stroke-width="1.3" stroke-opacity="0.7"/>
</g>
<text transform="translate(44.30,208.00) rotate(-90) scale(1,1.015)" text-anchor="middle" font-size="31.3" fill="#262626" stroke="#262626" stroke-width="0.3">Amplitude</text>
<text transform="translate(2.70,33.50) scale(1.08,1.05)" font-size="41.6" font-weight="bold" fill="#000">A</text>
<path d="M245.00,522.90V860.40M374.00,522.90V860.40M502.70,522.90V860.40M631.80,522.90V860.40M760.70,522.90V860.40M889.60,522.90V860.40M1018.60,522.90V860.40M1147.40,522.90V860.40M1276.30,522.90V860.40M1403.50,522.90V860.40" fill="none" stroke="#262626" stroke-opacity="0.135" stroke-width="1.6"/>
<path d="M115.00,566.60H1403.50M115.00,625.10H1403.50M115.00,682.00H1403.50M115.00,739.00H1403.50M115.00,796.00H1403.50M115.00,852.90H1403.50" fill="none" stroke="#262626" stroke-opacity="0.135" stroke-width="1.6"/>
<path d="M245.00,860.40V847.10M374.00,860.40V847.10M502.70,860.40V847.10M631.80,860.40V847.10M760.70,860.40V847.10M889.60,860.40V847.10M1018.60,860.40V847.10M1147.40,860.40V847.10M1276.30,860.40V847.10M1403.50,860.40V847.10M115.00,566.60H131.20M115.00,625.10H131.20M115.00,682.00H131.20M115.00,739.00H131.20M115.00,796.00H131.20M115.00,852.90H131.20" fill="none" stroke="#fff" stroke-width="4.6"/>
<path d="M245.00,860.40V849.10M374.00,860.40V849.10M502.70,860.40V849.10M631.80,860.40V849.10M760.70,860.40V849.10M889.60,860.40V849.10M1018.60,860.40V849.10M1147.40,860.40V849.10M1276.30,860.40V849.10M1403.50,860.40V849.10M115.00,566.60H128.80M115.00,625.10H128.80M115.00,682.00H128.80M115.00,739.00H128.80M115.00,796.00H128.80M115.00,852.90H128.80" fill="none" stroke="#262626" stroke-width="1.5"/>
<path d="M115.00,522.90V860.40H1404.30" fill="none" stroke="#262626" stroke-width="1.7" stroke-linejoin="miter"/>
<text transform="translate(115.50,900.40) scale(1,1.04)" text-anchor="middle" font-size="28.2" fill="#262626" stroke="#262626" stroke-width="0.3">0</text>
<text transform="translate(244.50,900.40) scale(1,1.04)" text-anchor="middle" font-size="28.2" fill="#262626" stroke="#262626" stroke-width="0.3">1</text>
<text transform="translate(373.50,900.40) scale(1,1.04)" text-anchor="middle" font-size="28.2" fill="#262626" stroke="#262626" stroke-width="0.3">2</text>
<text transform="translate(502.50,900.40) scale(1,1.04)" text-anchor="middle" font-size="28.2" fill="#262626" stroke="#262626" stroke-width="0.3">3</text>
<text transform="translate(631.50,900.40) scale(1,1.04)" text-anchor="middle" font-size="28.2" fill="#262626" stroke="#262626" stroke-width="0.3">4</text>
<text transform="translate(760.50,900.40) scale(1,1.04)" text-anchor="middle" font-size="28.2" fill="#262626" stroke="#262626" stroke-width="0.3">5</text>
<text transform="translate(889.50,900.40) scale(1,1.04)" text-anchor="middle" font-size="28.2" fill="#262626" stroke="#262626" stroke-width="0.3">6</text>
<text transform="translate(1018.50,900.40) scale(1,1.04)" text-anchor="middle" font-size="28.2" fill="#262626" stroke="#262626" stroke-width="0.3">7</text>
<text transform="translate(1147.50,900.40) scale(1,1.04)" text-anchor="middle" font-size="28.2" fill="#262626" stroke="#262626" stroke-width="0.3">8</text>
<text transform="translate(1276.50,900.40) scale(1,1.04)" text-anchor="middle" font-size="28.2" fill="#262626" stroke="#262626" stroke-width="0.3">9</text>
<text transform="translate(1405.50,900.40) scale(1,1.04)" text-anchor="middle" font-size="28.2" fill="#262626" stroke="#262626" stroke-width="0.3">10</text>
<text transform="translate(105.60,576.40) scale(1,1.04)" text-anchor="end" font-size="28.2" fill="#262626" stroke="#262626" stroke-width="0.3">0.6</text>
<text transform="translate(105.60,634.90) scale(1,1.04)" text-anchor="end" font-size="28.2" fill="#262626" stroke="#262626" stroke-width="0.3">0.4</text>
<text transform="translate(105.60,691.80) scale(1,1.04)" text-anchor="end" font-size="28.2" fill="#262626" stroke="#262626" stroke-width="0.3">0.2</text>
<text transform="translate(105.60,748.80) scale(1,1.04)" text-anchor="end" font-size="28.2" fill="#262626" stroke="#262626" stroke-width="0.3">0</text>
<text transform="translate(105.60,805.80) scale(1,1.04)" text-anchor="end" font-size="28.2" fill="#262626" stroke="#262626" stroke-width="0.3">-0.2</text>
<text transform="translate(105.60,862.70) scale(1,1.04)" text-anchor="end" font-size="28.2" fill="#262626" stroke="#262626" stroke-width="0.3">-0.4</text>
<defs><path id="cB" d="M115.00,836.00 L115.69,829.90 L116.38,822.37 L117.07,812.89 L117.76,800.99 L118.45,788.98 L119.14,776.67 L119.83,761.75 L120.53,743.66 L121.22,723.93 L121.91,704.07 L122.60,685.70 L123.29,666.94 L123.98,648.34 L124.67,630.55 L125.36,613.24 L126.05,596.98 L126.74,582.67 L127.43,571.95 L128.12,565.65 L128.81,562.12 L129.50,560.16 L130.19,560.61 L130.88,563.43 L131.57,567.98 L132.27,578.50 L132.96,589.54 L133.65,601.57 L134.34,614.72 L135.03,630.13 L135.72,647.01 L136.41,662.85 L137.10,678.17 L137.79,692.78 L138.48,707.05 L139.17,720.93 L139.86,733.98 L140.55,743.80 L141.24,751.30 L141.93,757.93 L142.62,763.73 L143.32,768.58 L144.01,771.82 L144.70,773.93 L145.39,775.48 L146.08,776.59 L146.77,777.32 L147.46,777.88 L148.15,778.39 L148.84,778.95 L149.53,779.55 L150.22,780.15 L150.91,780.80 L151.60,781.56 L152.29,782.49 L152.98,783.64 L153.68,784.98 L154.37,786.48 L155.06,788.13 L155.75,790.11 L156.44,792.39 L157.13,794.82 L157.82,797.33 L158.51,800.09 L159.20,802.92 L159.89,805.54 L160.58,807.91 L161.27,810.15 L161.96,812.32 L162.65,814.44 L163.34,816.56 L164.03,818.72 L164.72,820.90 L165.42,823.06 L166.11,825.18 L166.80,827.23 L167.49,829.16 L168.18,830.99 L168.87,832.74 L169.56,834.41 L170.25,836.00 L171.19,829.90 L172.13,822.37 L173.07,812.89 L174.01,800.99 L174.95,788.98 L175.89,776.67 L176.83,761.75 L177.76,743.66 L178.70,723.93 L179.64,704.07 L180.58,685.70 L181.52,666.94 L182.46,648.34 L183.40,630.55 L184.34,613.24 L185.28,596.98 L186.22,582.67 L187.16,571.95 L188.10,565.65 L189.04,562.12 L189.98,560.16 L190.92,560.61 L191.86,563.43 L192.80,567.98 L193.73,578.50 L194.67,589.54 L195.61,601.57 L196.55,614.72 L197.49,630.13 L198.43,647.01 L199.37,662.85 L200.31,678.17 L201.25,692.78 L202.19,707.05 L203.13,720.93 L204.07,733.98 L205.01,743.80 L205.95,751.30 L206.89,757.93 L207.82,763.73 L208.76,768.58 L209.70,771.82 L210.64,773.93 L211.58,775.48 L212.52,776.59 L213.46,777.32 L214.40,777.88 L215.34,778.39 L216.28,778.95 L217.22,779.55 L218.16,780.15 L219.10,780.80 L220.04,781.56 L220.98,782.49 L221.92,783.64 L222.86,784.98 L223.79,786.48 L224.73,788.13 L225.67,790.11 L226.61,792.39 L227.55,794.82 L228.49,797.33 L229.43,800.09 L230.37,802.92 L231.31,805.54 L232.25,807.91 L233.19,810.15 L234.13,812.32 L235.07,814.44 L236.01,816.56 L236.95,818.72 L237.88,820.90 L238.82,823.06 L239.76,825.18 L240.70,827.23 L241.64,829.16 L242.58,830.99 L243.52,832.74 L244.46,834.41 L245.40,836.00 L246.24,829.90 L247.08,822.37 L247.92,812.89 L248.75,800.99 L249.59,788.98 L250.43,776.67 L251.27,761.75 L252.11,743.66 L252.95,723.93 L253.79,704.07 L254.63,685.70 L255.47,666.94 L256.30,648.34 L257.14,630.55 L257.98,613.24 L258.82,596.98 L259.66,582.67 L260.50,571.95 L261.34,565.65 L262.18,562.12 L263.01,560.16 L263.85,560.61 L264.69,563.43 L265.53,567.98 L266.37,578.50 L267.21,589.54 L268.05,601.57 L268.88,614.72 L269.72,630.13 L270.56,647.01 L271.40,662.85 L272.24,678.17 L273.08,692.78 L273.92,707.05 L274.76,720.93 L275.60,733.98 L276.43,743.80 L277.27,751.30 L278.11,757.93 L278.95,763.73 L279.79,768.58 L280.63,771.82 L281.47,773.93 L282.31,775.48 L283.14,776.59 L283.98,777.32 L284.82,777.88 L285.66,778.39 L286.50,778.95 L287.34,779.55 L288.18,780.15 L289.01,780.80 L289.85,781.56 L290.69,782.49 L291.53,783.64 L292.37,784.98 L293.21,786.48 L294.05,788.13 L294.89,790.11 L295.73,792.39 L296.56,794.82 L297.40,797.33 L298.24,800.09 L299.08,802.92 L299.92,805.54 L300.76,807.91 L301.60,810.15 L302.44,812.32 L303.27,814.44 L304.11,816.56 L304.95,818.72 L305.79,820.90 L306.63,823.06 L307.47,825.18 L308.31,827.23 L309.14,829.16 L309.98,830.99 L310.82,832.74 L311.66,834.41 L312.50,836.00 L313.32,829.90 L314.14,822.37 L314.97,812.89 L315.79,800.99 L316.61,788.98 L317.44,776.67 L318.26,761.75 L319.08,743.66 L319.90,723.93 L320.73,704.07 L321.55,685.70 L322.37,666.94 L323.19,648.34 L324.01,630.55 L324.84,613.24 L325.66,596.98 L326.48,582.67 L327.31,571.95 L328.13,565.65 L328.95,562.12 L329.77,560.16 L330.60,560.61 L331.42,563.43 L332.24,567.98 L333.06,578.50 L333.88,589.54 L334.71,601.57 L335.53,614.72 L336.35,630.13 L337.18,647.01 L338.00,662.85 L338.82,678.17 L339.64,692.78 L340.47,707.05 L341.29,720.93 L342.11,733.98 L342.93,743.80 L343.75,751.30 L344.58,757.93 L345.40,763.73 L346.22,768.58 L347.05,771.82 L347.87,773.93 L348.69,775.48 L349.51,776.59 L350.34,777.32 L351.16,777.88 L351.98,778.39 L352.80,778.95 L353.62,779.55 L354.45,780.15 L355.27,780.80 L356.09,781.56 L356.92,782.49 L357.74,783.64 L358.56,784.98 L359.38,786.48 L360.21,788.13 L361.03,790.11 L361.85,792.39 L362.67,794.82 L363.50,797.33 L364.32,800.09 L365.14,802.92 L365.96,805.54 L366.79,807.91 L367.61,810.15 L368.43,812.32 L369.25,814.44 L370.07,816.56 L370.90,818.72 L371.72,820.90 L372.54,823.06 L373.37,825.18 L374.19,827.23 L375.01,829.16 L375.83,830.99 L376.66,832.74 L377.48,834.41 L378.30,836.00 L378.85,829.90 L379.40,822.37 L379.95,812.89 L380.50,800.99 L381.04,788.98 L381.59,776.67 L382.14,761.75 L382.69,743.66 L383.24,723.93 L383.79,704.07 L384.34,685.70 L384.88,666.94 L385.43,648.34 L385.98,630.55 L386.53,613.24 L387.08,596.98 L387.63,582.67 L388.18,571.95 L388.73,565.65 L389.27,562.12 L389.82,560.16 L390.37,560.61 L390.92,563.43 L391.47,567.98 L392.02,578.50 L392.57,589.54 L393.12,601.57 L393.67,614.72 L394.21,630.13 L394.76,647.01 L395.31,662.85 L395.86,678.17 L396.41,692.78 L396.96,707.05 L397.51,720.93 L398.06,733.98 L398.60,743.80 L399.15,751.30 L399.70,757.93 L400.25,763.73 L400.80,768.58 L401.35,771.82 L401.90,773.93 L402.44,775.48 L402.99,776.59 L403.54,777.32 L404.09,777.88 L404.64,778.39 L405.19,778.95 L405.74,779.55 L406.29,780.15 L406.83,780.80 L407.38,781.56 L407.93,782.49 L408.48,783.64 L409.03,784.98 L409.58,786.48 L410.13,788.13 L410.68,790.11 L411.23,792.39 L411.77,794.82 L412.32,797.33 L412.87,800.09 L413.42,802.92 L413.97,805.54 L414.52,807.91 L415.07,810.15 L415.62,812.32 L416.16,814.44 L416.71,816.56 L417.26,818.72 L417.81,820.90 L418.36,823.06 L418.91,825.18 L419.46,827.23 L420.00,829.16 L420.55,830.99 L421.10,832.74 L421.65,834.41 L422.20,836.00 L422.64,829.90 L423.08,822.37 L423.53,812.89 L423.97,800.99 L424.41,788.98 L424.86,776.67 L425.30,761.75 L425.74,743.66 L426.18,723.93 L426.62,704.07 L427.07,685.70 L427.51,666.94 L427.95,648.34 L428.39,630.55 L428.84,613.24 L429.28,596.98 L429.72,582.67 L430.17,571.95 L430.61,565.65 L431.05,562.12 L431.49,560.16 L431.94,560.61 L432.38,563.43 L432.82,567.98 L433.26,578.50 L433.70,589.54 L434.15,601.57 L434.59,614.72 L435.03,630.13 L435.48,647.01 L435.92,662.85 L436.36,678.17 L436.80,692.78 L437.25,707.05 L437.69,720.93 L438.13,733.98 L438.57,743.80 L439.01,751.30 L439.46,757.93 L439.90,763.73 L440.34,768.58 L440.79,771.82 L441.23,773.93 L441.67,775.48 L442.11,776.59 L442.56,777.32 L443.00,777.88 L443.44,778.39 L443.88,778.95 L444.32,779.55 L444.77,780.15 L445.21,780.80 L445.65,781.56 L446.10,782.49 L446.54,783.64 L446.98,784.98 L447.42,786.48 L447.87,788.13 L448.31,790.11 L448.75,792.39 L449.19,794.82 L449.63,797.33 L450.08,800.09 L450.52,802.92 L450.96,805.54 L451.41,807.91 L451.85,810.15 L452.29,812.32 L452.73,814.44 L453.18,816.56 L453.62,818.72 L454.06,820.90 L454.50,823.06 L454.95,825.18 L455.39,827.23 L455.83,829.16 L456.27,830.99 L456.72,832.74 L457.16,834.41 L457.60,836.00 L458.26,829.90 L458.91,822.37 L459.57,812.89 L460.23,800.99 L460.88,788.98 L461.54,776.67 L462.19,761.75 L462.85,743.66 L463.51,723.93 L464.16,704.07 L464.82,685.70 L465.48,666.94 L466.13,648.34 L466.79,630.55 L467.44,613.24 L468.10,596.98 L468.76,582.67 L469.41,571.95 L470.07,565.65 L470.73,562.12 L471.38,560.16 L472.04,560.61 L472.69,563.43 L473.35,567.98 L474.01,578.50 L474.66,589.54 L475.32,601.57 L475.98,614.72 L476.63,630.13 L477.29,647.01 L477.94,662.85 L478.60,678.17 L479.26,692.78 L479.91,707.05 L480.57,720.93 L481.23,733.98 L481.88,743.80 L482.54,751.30 L483.19,757.93 L483.85,763.73 L484.51,768.58 L485.16,771.82 L485.82,773.93 L486.48,775.48 L487.13,776.59 L487.79,777.32 L488.44,777.88 L489.10,778.39 L489.76,778.95 L490.41,779.55 L491.07,780.15 L491.73,780.80 L492.38,781.56 L493.04,782.49 L493.69,783.64 L494.35,784.98 L495.01,786.48 L495.66,788.13 L496.32,790.11 L496.98,792.39 L497.63,794.82 L498.29,797.33 L498.94,800.09 L499.60,802.92 L500.26,805.54 L500.91,807.91 L501.57,810.15 L502.23,812.32 L502.88,814.44 L503.54,816.56 L504.19,818.72 L504.85,820.90 L505.51,823.06 L506.16,825.18 L506.82,827.23 L507.48,829.16 L508.13,830.99 L508.79,832.74 L509.44,834.41 L510.10,836.00 L510.74,829.90 L511.38,822.37 L512.02,812.89 L512.66,800.99 L513.31,788.98 L513.95,776.67 L514.59,761.75 L515.23,743.66 L515.87,723.93 L516.51,704.07 L517.15,685.70 L517.80,666.94 L518.44,648.34 L519.08,630.55 L519.72,613.24 L520.36,596.98 L521.00,582.67 L521.64,571.95 L522.28,565.65 L522.92,562.12 L523.57,560.16 L524.21,560.61 L524.85,563.43 L525.49,567.98 L526.13,578.50 L526.77,589.54 L527.41,601.57 L528.06,614.72 L528.70,630.13 L529.34,647.01 L529.98,662.85 L530.62,678.17 L531.26,692.78 L531.90,707.05 L532.54,720.93 L533.18,733.98 L533.83,743.80 L534.47,751.30 L535.11,757.93 L535.75,763.73 L536.39,768.58 L537.03,771.82 L537.67,773.93 L538.32,775.48 L538.96,776.59 L539.60,777.32 L540.24,777.88 L540.88,778.39 L541.52,778.95 L542.16,779.55 L542.80,780.15 L543.44,780.80 L544.09,781.56 L544.73,782.49 L545.37,783.64 L546.01,784.98 L546.65,786.48 L547.29,788.13 L547.93,790.11 L548.58,792.39 L549.22,794.82 L549.86,797.33 L550.50,800.09 L551.14,802.92 L551.78,805.54 L552.42,807.91 L553.06,810.15 L553.71,812.32 L554.35,814.44 L554.99,816.56 L555.63,818.72 L556.27,820.90 L556.91,823.06 L557.55,825.18 L558.19,827.23 L558.84,829.16 L559.48,830.99 L560.12,832.74 L560.76,834.41 L561.40,836.00 L562.20,829.90 L563.01,822.37 L563.81,812.89 L564.62,800.99 L565.42,788.98 L566.22,776.67 L567.03,761.75 L567.83,743.66 L568.63,723.93 L569.44,704.07 L570.24,685.70 L571.04,666.94 L571.85,648.34 L572.65,630.55 L573.46,613.24 L574.26,596.98 L575.06,582.67 L575.87,571.95 L576.67,565.65 L577.48,562.12 L578.28,560.16 L579.08,560.61 L579.89,563.43 L580.69,567.98 L581.49,578.50 L582.30,589.54 L583.10,601.57 L583.90,614.72 L584.71,630.13 L585.51,647.01 L586.32,662.85 L587.12,678.17 L587.92,692.78 L588.73,707.05 L589.53,720.93 L590.34,733.98 L591.14,743.80 L591.94,751.30 L592.75,757.93 L593.55,763.73 L594.35,768.58 L595.16,771.82 L595.96,773.93 L596.76,775.48 L597.57,776.59 L598.37,777.32 L599.18,777.88 L599.98,778.39 L600.78,778.95 L601.59,779.55 L602.39,780.15 L603.20,780.80 L604.00,781.56 L604.80,782.49 L605.61,783.64 L606.41,784.98 L607.21,786.48 L608.02,788.13 L608.82,790.11 L609.62,792.39 L610.43,794.82 L611.23,797.33 L612.04,800.09 L612.84,802.92 L613.64,805.54 L614.45,807.91 L615.25,810.15 L616.06,812.32 L616.86,814.44 L617.66,816.56 L618.47,818.72 L619.27,820.90 L620.07,823.06 L620.88,825.18 L621.68,827.23 L622.49,829.16 L623.29,830.99 L624.09,832.74 L624.90,834.41 L625.70,836.00 L626.53,829.90 L627.36,822.37 L628.18,812.89 L629.01,800.99 L629.84,788.98 L630.67,776.67 L631.49,761.75 L632.32,743.66 L633.15,723.93 L633.98,704.07 L634.80,685.70 L635.63,666.94 L636.46,648.34 L637.29,630.55 L638.11,613.24 L638.94,596.98 L639.77,582.67 L640.60,571.95 L641.42,565.65 L642.25,562.12 L643.08,560.16 L643.90,560.61 L644.73,563.43 L645.56,567.98 L646.39,578.50 L647.22,589.54 L648.04,601.57 L648.87,614.72 L649.70,630.13 L650.52,647.01 L651.35,662.85 L652.18,678.17 L653.01,692.78 L653.84,707.05 L654.66,720.93 L655.49,733.98 L656.32,743.80 L657.14,751.30 L657.97,757.93 L658.80,763.73 L659.63,768.58 L660.46,771.82 L661.28,773.93 L662.11,775.48 L662.94,776.59 L663.76,777.32 L664.59,777.88 L665.42,778.39 L666.25,778.95 L667.08,779.55 L667.90,780.15 L668.73,780.80 L669.56,781.56 L670.38,782.49 L671.21,783.64 L672.04,784.98 L672.87,786.48 L673.70,788.13 L674.52,790.11 L675.35,792.39 L676.18,794.82 L677.00,797.33 L677.83,800.09 L678.66,802.92 L679.49,805.54 L680.31,807.91 L681.14,810.15 L681.97,812.32 L682.80,814.44 L683.62,816.56 L684.45,818.72 L685.28,820.90 L686.11,823.06 L686.93,825.18 L687.76,827.23 L688.59,829.16 L689.42,830.99 L690.25,832.74 L691.07,834.41 L691.90,836.00 L692.55,829.90 L693.21,822.37 L693.87,812.89 L694.52,800.99 L695.17,788.98 L695.83,776.67 L696.49,761.75 L697.14,743.66 L697.79,723.93 L698.45,704.07 L699.11,685.70 L699.76,666.94 L700.41,648.34 L701.07,630.55 L701.73,613.24 L702.38,596.98 L703.03,582.67 L703.69,571.95 L704.35,565.65 L705.00,562.12 L705.65,560.16 L706.31,560.61 L706.96,563.43 L707.62,567.98 L708.27,578.50 L708.93,589.54 L709.58,601.57 L710.24,614.72 L710.89,630.13 L711.55,647.01 L712.20,662.85 L712.86,678.17 L713.51,692.78 L714.17,707.05 L714.82,720.93 L715.48,733.98 L716.13,743.80 L716.79,751.30 L717.44,757.93 L718.10,763.73 L718.75,768.58 L719.41,771.82 L720.06,773.93 L720.72,775.48 L721.38,776.59 L722.03,777.32 L722.68,777.88 L723.34,778.39 L724.00,778.95 L724.65,779.55 L725.30,780.15 L725.96,780.80 L726.62,781.56 L727.27,782.49 L727.92,783.64 L728.58,784.98 L729.24,786.48 L729.89,788.13 L730.54,790.11 L731.20,792.39 L731.86,794.82 L732.51,797.33 L733.16,800.09 L733.82,802.92 L734.47,805.54 L735.13,807.91 L735.78,810.15 L736.44,812.32 L737.09,814.44 L737.75,816.56 L738.40,818.72 L739.06,820.90 L739.71,823.06 L740.37,825.18 L741.02,827.23 L741.68,829.16 L742.33,830.99 L742.99,832.74 L743.64,834.41 L744.30,836.00 L745.07,829.90 L745.85,822.37 L746.62,812.89 L747.40,800.99 L748.17,788.98 L748.95,776.67 L749.72,761.75 L750.50,743.66 L751.27,723.93 L752.04,704.07 L752.82,685.70 L753.59,666.94 L754.37,648.34 L755.14,630.55 L755.92,613.24 L756.69,596.98 L757.46,582.67 L758.24,571.95 L759.01,565.65 L759.79,562.12 L760.56,560.16 L761.34,560.61 L762.11,563.43 L762.88,567.98 L763.66,578.50 L764.43,589.54 L765.21,601.57 L765.98,614.72 L766.76,630.13 L767.53,647.01 L768.31,662.85 L769.08,678.17 L769.85,692.78 L770.63,707.05 L771.40,720.93 L772.18,733.98 L772.95,743.80 L773.73,751.30 L774.50,757.93 L775.27,763.73 L776.05,768.58 L776.82,771.82 L777.60,773.93 L778.37,775.48 L779.15,776.59 L779.92,777.32 L780.70,777.88 L781.47,778.39 L782.24,778.95 L783.02,779.55 L783.79,780.15 L784.57,780.80 L785.34,781.56 L786.12,782.49 L786.89,783.64 L787.66,784.98 L788.44,786.48 L789.21,788.13 L789.99,790.11 L790.76,792.39 L791.54,794.82 L792.31,797.33 L793.09,800.09 L793.86,802.92 L794.63,805.54 L795.41,807.91 L796.18,810.15 L796.96,812.32 L797.73,814.44 L798.51,816.56 L799.28,818.72 L800.05,820.90 L800.83,823.06 L801.60,825.18 L802.38,827.23 L803.15,829.16 L803.93,830.99 L804.70,832.74 L805.48,834.41 L806.25,836.00 L806.89,829.90 L807.53,822.37 L808.17,812.89 L808.81,800.99 L809.45,788.98 L810.09,776.67 L810.73,761.75 L811.37,743.66 L812.00,723.93 L812.64,704.07 L813.28,685.70 L813.92,666.94 L814.56,648.34 L815.20,630.55 L815.84,613.24 L816.48,596.98 L817.12,582.67 L817.76,571.95 L818.40,565.65 L819.04,562.12 L819.68,560.16 L820.32,560.61 L820.96,563.43 L821.60,567.98 L822.23,578.50 L822.87,589.54 L823.51,601.57 L824.15,614.72 L824.79,630.13 L825.43,647.01 L826.07,662.85 L826.71,678.17 L827.35,692.78 L827.99,707.05 L828.63,720.93 L829.27,733.98 L829.91,743.80 L830.55,751.30 L831.19,757.93 L831.83,763.73 L832.46,768.58 L833.10,771.82 L833.74,773.93 L834.38,775.48 L835.02,776.59 L835.66,777.32 L836.30,777.88 L836.94,778.39 L837.58,778.95 L838.22,779.55 L838.86,780.15 L839.50,780.80 L840.14,781.56 L840.78,782.49 L841.42,783.64 L842.05,784.98 L842.69,786.48 L843.33,788.13 L843.97,790.11 L844.61,792.39 L845.25,794.82 L845.89,797.33 L846.53,800.09 L847.17,802.92 L847.81,805.54 L848.45,807.91 L849.09,810.15 L849.73,812.32 L850.37,814.44 L851.01,816.56 L851.65,818.72 L852.28,820.90 L852.92,823.06 L853.56,825.18 L854.20,827.23 L854.84,829.16 L855.48,830.99 L856.12,832.74 L856.76,834.41 L857.40,836.00 L857.95,829.90 L858.50,822.37 L859.05,812.89 L859.60,800.99 L860.15,788.98 L860.70,776.67 L861.25,761.75 L861.80,743.66 L862.35,723.93 L862.90,704.07 L863.45,685.70 L864.00,666.94 L864.55,648.34 L865.10,630.55 L865.65,613.24 L866.20,596.98 L866.75,582.67 L867.30,571.95 L867.85,565.65 L868.40,562.12 L868.95,560.16 L869.50,560.61 L870.05,563.43 L870.60,567.98 L871.15,578.50 L871.70,589.54 L872.25,601.57 L872.80,614.72 L873.35,630.13 L873.90,647.01 L874.45,662.85 L875.00,678.17 L875.55,692.78 L876.10,707.05 L876.65,720.93 L877.20,733.98 L877.75,743.80 L878.30,751.30 L878.85,757.93 L879.40,763.73 L879.95,768.58 L880.50,771.82 L881.05,773.93 L881.60,775.48 L882.15,776.59 L882.70,777.32 L883.25,777.88 L883.80,778.39 L884.35,778.95 L884.90,779.55 L885.45,780.15 L886.00,780.80 L886.55,781.56 L887.10,782.49 L887.65,783.64 L888.20,784.98 L888.75,786.48 L889.30,788.13 L889.85,790.11 L890.40,792.39 L890.95,794.82 L891.50,797.33 L892.05,800.09 L892.60,802.92 L893.15,805.54 L893.70,807.91 L894.25,810.15 L894.80,812.32 L895.35,814.44 L895.90,816.56 L896.45,818.72 L897.00,820.90 L897.55,823.06 L898.10,825.18 L898.65,827.23 L899.20,829.16 L899.75,830.99 L900.30,832.74 L900.85,834.41 L901.40,836.00 L902.04,829.90 L902.68,822.37 L903.32,812.89 L903.97,800.99 L904.61,788.98 L905.25,776.67 L905.89,761.75 L906.53,743.66 L907.17,723.93 L907.81,704.07 L908.45,685.70 L909.10,666.94 L909.74,648.34 L910.38,630.55 L911.02,613.24 L911.66,596.98 L912.30,582.67 L912.94,571.95 L913.58,565.65 L914.23,562.12 L914.87,560.16 L915.51,560.61 L916.15,563.43 L916.79,567.98 L917.43,578.50 L918.07,589.54 L918.71,601.57 L919.36,614.72 L920.00,630.13 L920.64,647.01 L921.28,662.85 L921.92,678.17 L922.56,692.78 L923.20,707.05 L923.84,720.93 L924.49,733.98 L925.13,743.80 L925.77,751.30 L926.41,757.93 L927.05,763.73 L927.69,768.58 L928.33,771.82 L928.97,773.93 L929.62,775.48 L930.26,776.59 L930.90,777.32 L931.54,777.88 L932.18,778.39 L932.82,778.95 L933.46,779.55 L934.10,780.15 L934.75,780.80 L935.39,781.56 L936.03,782.49 L936.67,783.64 L937.31,784.98 L937.95,786.48 L938.59,788.13 L939.23,790.11 L939.88,792.39 L940.52,794.82 L941.16,797.33 L941.80,800.09 L942.44,802.92 L943.08,805.54 L943.72,807.91 L944.36,810.15 L945.00,812.32 L945.65,814.44 L946.29,816.56 L946.93,818.72 L947.57,820.90 L948.21,823.06 L948.85,825.18 L949.49,827.23 L950.13,829.16 L950.78,830.99 L951.42,832.74 L952.06,834.41 L952.70,836.00 L953.24,829.90 L953.79,822.37 L954.33,812.89 L954.87,800.99 L955.41,788.98 L955.96,776.67 L956.50,761.75 L957.04,743.66 L957.58,723.93 L958.12,704.07 L958.67,685.70 L959.21,666.94 L959.75,648.34 L960.30,630.55 L960.84,613.24 L961.38,596.98 L961.92,582.67 L962.47,571.95 L963.01,565.65 L963.55,562.12 L964.09,560.16 L964.63,560.61 L965.18,563.43 L965.72,567.98 L966.26,578.50 L966.81,589.54 L967.35,601.57 L967.89,614.72 L968.43,630.13 L968.98,647.01 L969.52,662.85 L970.06,678.17 L970.60,692.78 L971.14,707.05 L971.69,720.93 L972.23,733.98 L972.77,743.80 L973.32,751.30 L973.86,757.93 L974.40,763.73 L974.94,768.58 L975.49,771.82 L976.03,773.93 L976.57,775.48 L977.11,776.59 L977.66,777.32 L978.20,777.88 L978.74,778.39 L979.28,778.95 L979.83,779.55 L980.37,780.15 L980.91,780.80 L981.45,781.56 L982.00,782.49 L982.54,783.64 L983.08,784.98 L983.62,786.48 L984.17,788.13 L984.71,790.11 L985.25,792.39 L985.79,794.82 L986.34,797.33 L986.88,800.09 L987.42,802.92 L987.96,805.54 L988.50,807.91 L989.05,810.15 L989.59,812.32 L990.13,814.44 L990.68,816.56 L991.22,818.72 L991.76,820.90 L992.30,823.06 L992.85,825.18 L993.39,827.23 L993.93,829.16 L994.47,830.99 L995.01,832.74 L995.56,834.41 L996.10,836.00 L996.89,829.90 L997.68,822.37 L998.46,812.89 L999.25,800.99 L1000.04,788.98 L1000.83,776.67 L1001.61,761.75 L1002.40,743.66 L1003.19,723.93 L1003.98,704.07 L1004.76,685.70 L1005.55,666.94 L1006.34,648.34 L1007.12,630.55 L1007.91,613.24 L1008.70,596.98 L1009.49,582.67 L1010.27,571.95 L1011.06,565.65 L1011.85,562.12 L1012.64,560.16 L1013.42,560.61 L1014.21,563.43 L1015.00,567.98 L1015.79,578.50 L1016.57,589.54 L1017.36,601.57 L1018.15,614.72 L1018.94,630.13 L1019.73,647.01 L1020.51,662.85 L1021.30,678.17 L1022.09,692.78 L1022.88,707.05 L1023.66,720.93 L1024.45,733.98 L1025.24,743.80 L1026.02,751.30 L1026.81,757.93 L1027.60,763.73 L1028.39,768.58 L1029.17,771.82 L1029.96,773.93 L1030.75,775.48 L1031.54,776.59 L1032.33,777.32 L1033.11,777.88 L1033.90,778.39 L1034.69,778.95 L1035.47,779.55 L1036.26,780.15 L1037.05,780.80 L1037.84,781.56 L1038.62,782.49 L1039.41,783.64 L1040.20,784.98 L1040.99,786.48 L1041.77,788.13 L1042.56,790.11 L1043.35,792.39 L1044.14,794.82 L1044.92,797.33 L1045.71,800.09 L1046.50,802.92 L1047.29,805.54 L1048.07,807.91 L1048.86,810.15 L1049.65,812.32 L1050.44,814.44 L1051.22,816.56 L1052.01,818.72 L1052.80,820.90 L1053.59,823.06 L1054.38,825.18 L1055.16,827.23 L1055.95,829.16 L1056.74,830.99 L1057.52,832.74 L1058.31,834.41 L1059.10,836.00 L1060.01,829.90 L1060.92,822.37 L1061.83,812.89 L1062.74,800.99 L1063.66,788.98 L1064.57,776.67 L1065.48,761.75 L1066.39,743.66 L1067.30,723.93 L1068.21,704.07 L1069.12,685.70 L1070.03,666.94 L1070.95,648.34 L1071.86,630.55 L1072.77,613.24 L1073.68,596.98 L1074.59,582.67 L1075.50,571.95 L1076.41,565.65 L1077.32,562.12 L1078.24,560.16 L1079.15,560.61 L1080.06,563.43 L1080.97,567.98 L1081.88,578.50 L1082.79,589.54 L1083.70,601.57 L1084.62,614.72 L1085.53,630.13 L1086.44,647.01 L1087.35,662.85 L1088.26,678.17 L1089.17,692.78 L1090.08,707.05 L1090.99,720.93 L1091.90,733.98 L1092.82,743.80 L1093.73,751.30 L1094.64,757.93 L1095.55,763.73 L1096.46,768.58 L1097.37,771.82 L1098.28,773.93 L1099.19,775.48 L1100.11,776.59 L1101.02,777.32 L1101.93,777.88 L1102.84,778.39 L1103.75,778.95 L1104.66,779.55 L1105.57,780.15 L1106.48,780.80 L1107.40,781.56 L1108.31,782.49 L1109.22,783.64 L1110.13,784.98 L1111.04,786.48 L1111.95,788.13 L1112.86,790.11 L1113.78,792.39 L1114.69,794.82 L1115.60,797.33 L1116.51,800.09 L1117.42,802.92 L1118.33,805.54 L1119.24,807.91 L1120.15,810.15 L1121.07,812.32 L1121.98,814.44 L1122.89,816.56 L1123.80,818.72 L1124.71,820.90 L1125.62,823.06 L1126.53,825.18 L1127.44,827.23 L1128.36,829.16 L1129.27,830.99 L1130.18,832.74 L1131.09,834.41 L1132.00,836.00 L1132.76,829.90 L1133.51,822.37 L1134.27,812.89 L1135.02,800.99 L1135.78,788.98 L1136.53,776.67 L1137.29,761.75 L1138.05,743.66 L1138.80,723.93 L1139.56,704.07 L1140.31,685.70 L1141.07,666.94 L1141.82,648.34 L1142.58,630.55 L1143.33,613.24 L1144.09,596.98 L1144.85,582.67 L1145.60,571.95 L1146.36,565.65 L1147.11,562.12 L1147.87,560.16 L1148.62,560.61 L1149.38,563.43 L1150.13,567.98 L1150.89,578.50 L1151.65,589.54 L1152.40,601.57 L1153.16,614.72 L1153.91,630.13 L1154.67,647.01 L1155.42,662.85 L1156.18,678.17 L1156.94,692.78 L1157.69,707.05 L1158.45,720.93 L1159.20,733.98 L1159.96,743.80 L1160.71,751.30 L1161.47,757.93 L1162.22,763.73 L1162.98,768.58 L1163.74,771.82 L1164.49,773.93 L1165.25,775.48 L1166.00,776.59 L1166.76,777.32 L1167.51,777.88 L1168.27,778.39 L1169.03,778.95 L1169.78,779.55 L1170.54,780.15 L1171.29,780.80 L1172.05,781.56 L1172.80,782.49 L1173.56,783.64 L1174.32,784.98 L1175.07,786.48 L1175.83,788.13 L1176.58,790.11 L1177.34,792.39 L1178.09,794.82 L1178.85,797.33 L1179.60,800.09 L1180.36,802.92 L1181.12,805.54 L1181.87,807.91 L1182.63,810.15 L1183.38,812.32 L1184.14,814.44 L1184.89,816.56 L1185.65,818.72 L1186.40,820.90 L1187.16,823.06 L1187.92,825.18 L1188.67,827.23 L1189.43,829.16 L1190.18,830.99 L1190.94,832.74 L1191.69,834.41 L1192.45,836.00 L1193.19,829.90 L1193.93,822.37 L1194.66,812.89 L1195.40,800.99 L1196.14,788.98 L1196.88,776.67 L1197.62,761.75 L1198.36,743.66 L1199.09,723.93 L1199.83,704.07 L1200.57,685.70 L1201.31,666.94 L1202.05,648.34 L1202.78,630.55 L1203.52,613.24 L1204.26,596.98 L1205.00,582.67 L1205.74,571.95 L1206.47,565.65 L1207.21,562.12 L1207.95,560.16 L1208.69,560.61 L1209.43,563.43 L1210.16,567.98 L1210.90,578.50 L1211.64,589.54 L1212.38,601.57 L1213.12,614.72 L1213.86,630.13 L1214.59,647.01 L1215.33,662.85 L1216.07,678.17 L1216.81,692.78 L1217.55,707.05 L1218.28,720.93 L1219.02,733.98 L1219.76,743.80 L1220.50,751.30 L1221.24,757.93 L1221.97,763.73 L1222.71,768.58 L1223.45,771.82 L1224.19,773.93 L1224.93,775.48 L1225.67,776.59 L1226.40,777.32 L1227.14,777.88 L1227.88,778.39 L1228.62,778.95 L1229.36,779.55 L1230.09,780.15 L1230.83,780.80 L1231.57,781.56 L1232.31,782.49 L1233.05,783.64 L1233.79,784.98 L1234.52,786.48 L1235.26,788.13 L1236.00,790.11 L1236.74,792.39 L1237.48,794.82 L1238.21,797.33 L1238.95,800.09 L1239.69,802.92 L1240.43,805.54 L1241.17,807.91 L1241.90,810.15 L1242.64,812.32 L1243.38,814.44 L1244.12,816.56 L1244.86,818.72 L1245.60,820.90 L1246.33,823.06 L1247.07,825.18 L1247.81,827.23 L1248.55,829.16 L1249.29,830.99 L1250.02,832.74 L1250.76,834.41 L1251.50,836.00 L1251.96,829.90 L1252.42,822.37 L1252.88,812.89 L1253.34,800.99 L1253.79,788.98 L1254.25,776.67 L1254.71,761.75 L1255.17,743.66 L1255.63,723.93 L1256.09,704.07 L1256.55,685.70 L1257.01,666.94 L1257.46,648.34 L1257.92,630.55 L1258.38,613.24 L1258.84,596.98 L1259.30,582.67 L1259.76,571.95 L1260.22,565.65 L1260.67,562.12 L1261.13,560.16 L1261.59,560.61 L1262.05,563.43 L1262.51,567.98 L1262.97,578.50 L1263.43,589.54 L1263.89,601.57 L1264.35,614.72 L1264.80,630.13 L1265.26,647.01 L1265.72,662.85 L1266.18,678.17 L1266.64,692.78 L1267.10,707.05 L1267.56,720.93 L1268.02,733.98 L1268.47,743.80 L1268.93,751.30 L1269.39,757.93 L1269.85,763.73 L1270.31,768.58 L1270.77,771.82 L1271.23,773.93 L1271.68,775.48 L1272.14,776.59 L1272.60,777.32 L1273.06,777.88 L1273.52,778.39 L1273.98,778.95 L1274.44,779.55 L1274.90,780.15 L1275.36,780.80 L1275.81,781.56 L1276.27,782.49 L1276.73,783.64 L1277.19,784.98 L1277.65,786.48 L1278.11,788.13 L1278.57,790.11 L1279.03,792.39 L1279.48,794.82 L1279.94,797.33 L1280.40,800.09 L1280.86,802.92 L1281.32,805.54 L1281.78,807.91 L1282.24,810.15 L1282.69,812.32 L1283.15,814.44 L1283.61,816.56 L1284.07,818.72 L1284.53,820.90 L1284.99,823.06 L1285.45,825.18 L1285.91,827.23 L1286.37,829.16 L1286.82,830.99 L1287.28,832.74 L1287.74,834.41 L1288.20,836.00 L1288.66,829.90 L1289.12,822.37 L1289.58,812.89 L1290.05,800.99 L1290.51,788.98 L1290.97,776.67 L1291.43,761.75 L1291.89,743.66 L1292.35,723.93 L1292.81,704.07 L1293.27,685.70 L1293.74,666.94 L1294.20,648.34 L1294.66,630.55 L1295.12,613.24 L1295.58,596.98 L1296.04,582.67 L1296.50,571.95 L1296.96,565.65 L1297.42,562.12 L1297.89,560.16 L1298.35,560.61 L1298.81,563.43 L1299.27,567.98 L1299.73,578.50 L1300.19,589.54 L1300.65,601.57 L1301.12,614.72 L1301.58,630.13 L1302.04,647.01 L1302.50,662.85 L1302.96,678.17 L1303.42,692.78 L1303.88,707.05 L1304.34,720.93 L1304.81,733.98 L1305.27,743.80 L1305.73,751.30 L1306.19,757.93 L1306.65,763.73 L1307.11,768.58 L1307.57,771.82 L1308.03,773.93 L1308.49,775.48 L1308.96,776.59 L1309.42,777.32 L1309.88,777.88 L1310.34,778.39 L1310.80,778.95 L1311.26,779.55 L1311.72,780.15 L1312.18,780.80 L1312.65,781.56 L1313.11,782.49 L1313.57,783.64 L1314.03,784.98 L1314.49,786.48 L1314.95,788.13 L1315.41,790.11 L1315.88,792.39 L1316.34,794.82 L1316.80,797.33 L1317.26,800.09 L1317.72,802.92 L1318.18,805.54 L1318.64,807.91 L1319.10,810.15 L1319.56,812.32 L1320.03,814.44 L1320.49,816.56 L1320.95,818.72 L1321.41,820.90 L1321.87,823.06 L1322.33,825.18 L1322.79,827.23 L1323.25,829.16 L1323.72,830.99 L1324.18,832.74 L1324.64,834.41 L1325.10,836.00 L1325.83,829.90 L1326.55,822.37 L1327.28,812.89 L1328.00,800.99 L1328.73,788.98 L1329.46,776.67 L1330.18,761.75 L1330.91,743.66 L1331.64,723.93 L1332.36,704.07 L1333.09,685.70 L1333.81,666.94 L1334.54,648.34 L1335.27,630.55 L1335.99,613.24 L1336.72,596.98 L1337.45,582.67 L1338.17,571.95 L1338.90,565.65 L1339.62,562.12 L1340.35,560.16 L1341.08,560.61 L1341.80,563.43 L1342.53,567.98 L1343.26,578.50 L1343.98,589.54 L1344.71,601.57 L1345.43,614.72 L1346.16,630.13 L1346.89,647.01 L1347.61,662.85 L1348.34,678.17 L1349.07,692.78 L1349.79,707.05 L1350.52,720.93 L1351.24,733.98 L1351.97,743.80 L1352.70,751.30 L1353.42,757.93 L1354.15,763.73 L1354.88,768.58 L1355.60,771.82 L1356.33,773.93 L1357.06,775.48 L1357.78,776.59 L1358.51,777.32 L1359.23,777.88 L1359.96,778.39 L1360.69,778.95 L1361.41,779.55 L1362.14,780.15 L1362.87,780.80 L1363.59,781.56 L1364.32,782.49 L1365.04,783.64 L1365.77,784.98 L1366.50,786.48 L1367.22,788.13 L1367.95,790.11 L1368.67,792.39 L1369.40,794.82 L1370.13,797.33 L1370.85,800.09 L1371.58,802.92 L1372.31,805.54 L1373.03,807.91 L1373.76,810.15 L1374.49,812.32 L1375.21,814.44 L1375.94,816.56 L1376.66,818.72 L1377.39,820.90 L1378.12,823.06 L1378.84,825.18 L1379.57,827.23 L1380.30,829.16 L1381.02,830.99 L1381.75,832.74 L1382.47,834.41 L1383.20,836.00 L1383.95,829.90 L1384.71,822.37 L1385.46,812.89 L1386.21,800.99 L1386.96,788.98 L1387.72,776.67 L1388.47,761.75 L1389.22,743.66 L1389.97,723.93 L1390.73,704.07 L1391.48,685.70 L1392.23,666.94 L1392.98,648.34 L1393.74,630.55 L1394.49,613.24 L1395.24,596.98 L1395.99,582.67 L1396.75,571.95 L1397.50,565.65 L1398.25,562.12 L1399.00,560.16 L1399.76,560.61 L1400.51,563.43 L1401.26,567.98 L1402.01,578.50 L1402.77,589.54 L1403.52,601.57 L1404.20,613.50"/></defs>
<g fill="none" stroke="#A2142F" stroke-linejoin="round">
<use href="#cB" stroke-width="3" stroke-opacity="0.14"/>
<use href="#cB" stroke-width="2.1" stroke-opacity="0.5"/>
<use href="#cB" stroke-width="1.3" stroke-opacity="0.7"/>
</g>
<text transform="translate(44.30,692.00) rotate(-90) scale(1,1.015)" text-anchor="middle" font-size="31.3" fill="#262626" stroke="#262626" stroke-width="0.3">Amplitude</text>
<text transform="translate(760.00,940.80) scale(1,1.015)" text-anchor="middle" font-size="31.3" fill="#262626" stroke="#262626" stroke-width="0.3">Time (s)</text>
<text transform="translate(2.20,517.60) scale(1,1.05)" font-size="41.6" font-weight="bold" fill="#000">B</text>
<path d="M245.00,1006.70V1346.00M374.00,1006.70V1346.00M502.70,1006.70V1346.00M631.80,1006.70V1346.00M760.70,1006.70V1346.00M889.60,1006.70V1346.00M1018.60,1006.70V1346.00M1147.40,1006.70V1346.00M1276.30,1006.70V1346.00M1403.50,1006.70V1346.00" fill="none" stroke="#262626" stroke-opacity="0.135" stroke-width="1.6"/>
<path d="M115.00,1040.40H1403.50M115.00,1100.20H1403.50M115.00,1158.70H1403.50M115.00,1218.60H1403.50M115.00,1277.20H1403.50M115.00,1337.10H1403.50" fill="none" stroke="#262626" stroke-opacity="0.135" stroke-width="1.6"/>
<path d="M245.00,1346.00V1331.00M374.00,1346.00V1331.00M502.70,1346.00V1331.00M631.80,1346.00V1331.00M760.70,1346.00V1331.00M889.60,1346.00V1331.00M1018.60,1346.00V1331.00M1147.40,1346.00V1331.00M1276.30,1346.00V1331.00M1403.50,1346.00V1331.00M115.00,1040.40H131.20M115.00,1100.20H131.20M115.00,1158.70H131.20M115.00,1218.60H131.20M115.00,1277.20H131.20M115.00,1337.10H131.20" fill="none" stroke="#fff" stroke-width="4.6"/>
<path d="M118.60,1203.80h22.00M129.60,1192.80v22.00M121.82,1196.02l15.56,15.56M121.82,1211.58l15.56,-15.56M180.00,1106.20h22.00M191.00,1095.20v22.00M183.22,1098.42l15.56,15.56M183.22,1113.98l15.56,-15.56M253.60,1149.40h22.00M264.60,1138.40v22.00M256.82,1141.62l15.56,15.56M256.82,1157.18l15.56,-15.56M319.90,1152.90h22.00M330.90,1141.90v22.00M323.12,1145.12l15.56,15.56M323.12,1160.68l15.56,-15.56M379.40,1251.60h22.00M390.40,1240.60v22.00M382.62,1243.82l15.56,15.56M382.62,1259.38l15.56,-15.56M421.20,1295.40h22.00M432.20,1284.40v22.00M424.42,1287.62l15.56,15.56M424.42,1303.18l15.56,-15.56M460.10,1212.70h22.00M471.10,1201.70v22.00M463.32,1204.92l15.56,15.56M463.32,1220.48l15.56,-15.56M512.80,1219.00h22.00M523.80,1208.00v22.00M516.02,1211.22l15.56,15.56M516.02,1226.78l15.56,-15.56M568.00,1161.30h22.00M579.00,1150.30v22.00M571.22,1153.52l15.56,15.56M571.22,1169.08l15.56,-15.56M632.50,1150.60h22.00M643.50,1139.60v22.00M635.72,1142.82l15.56,15.56M635.72,1158.38l15.56,-15.56M695.30,1213.90h22.00M706.30,1202.90v22.00M698.52,1206.12l15.56,15.56M698.52,1221.68l15.56,-15.56M751.20,1169.40h22.00M762.20,1158.40v22.00M754.42,1161.62l15.56,15.56M754.42,1177.18l15.56,-15.56M809.50,1221.50h22.00M820.50,1210.50v22.00M812.72,1213.72l15.56,15.56M812.72,1229.28l15.56,-15.56M858.90,1253.70h22.00M869.90,1242.70v22.00M862.12,1245.92l15.56,15.56M862.12,1261.48l15.56,-15.56M903.90,1220.00h22.00M914.90,1209.00v22.00M907.12,1212.22l15.56,15.56M907.12,1227.78l15.56,-15.56M953.30,1256.20h22.00M964.30,1245.20v22.00M956.52,1248.42l15.56,15.56M956.52,1263.98l15.56,-15.56M1002.70,1164.60h22.00M1013.70,1153.60v22.00M1005.92,1156.82l15.56,15.56M1005.92,1172.38l15.56,-15.56M1068.30,1121.30h22.00M1079.30,1110.30v22.00M1071.52,1113.52l15.56,15.56M1071.52,1129.08l15.56,-15.56M1137.60,1177.00h22.00M1148.60,1166.00v22.00M1140.82,1169.22l15.56,15.56M1140.82,1184.78l15.56,-15.56M1197.80,1184.10h22.00M1208.80,1173.10v22.00M1201.02,1176.32l15.56,15.56M1201.02,1191.88l15.56,-15.56M1251.50,1287.80h22.00M1262.50,1276.80v22.00M1254.72,1280.02l15.56,15.56M1254.72,1295.58l15.56,-15.56M1287.70,1286.60h22.00M1298.70,1275.60v22.00M1290.92,1278.82l15.56,15.56M1290.92,1294.38l15.56,-15.56M1329.00,1187.10h22.00M1340.00,1176.10v22.00M1332.22,1179.32l15.56,15.56M1332.22,1194.88l15.56,-15.56M1389.70,1178.20h22.00M1400.70,1167.20v22.00M1392.92,1170.42l15.56,15.56M1392.92,1185.98l15.56,-15.56" fill="none" stroke="#fff" stroke-width="4.4"/>
<path d="M129.60,1203.80 L191.00,1106.20 L264.60,1149.40 L330.90,1152.90 L390.40,1251.60 L432.20,1295.40 L471.10,1212.70 L523.80,1219.00 L579.00,1161.30 L643.50,1150.60 L706.30,1213.90 L762.20,1169.40 L820.50,1221.50 L869.90,1253.70 L914.90,1220.00 L964.30,1256.20 L1013.70,1164.60 L1079.30,1121.30 L1148.60,1177.00 L1208.80,1184.10 L1262.50,1287.80 L1298.70,1286.60 L1340.00,1187.10 L1400.70,1178.20" fill="none" stroke="#000" stroke-width="1.5" stroke-linejoin="round"/>
<path d="M120.20,1203.80h18.80M129.60,1194.40v18.80M122.95,1197.15l13.29,13.29M122.95,1210.45l13.29,-13.29M181.60,1106.20h18.80M191.00,1096.80v18.80M184.35,1099.55l13.29,13.29M184.35,1112.85l13.29,-13.29M255.20,1149.40h18.80M264.60,1140.00v18.80M257.95,1142.75l13.29,13.29M257.95,1156.05l13.29,-13.29M321.50,1152.90h18.80M330.90,1143.50v18.80M324.25,1146.25l13.29,13.29M324.25,1159.55l13.29,-13.29M381.00,1251.60h18.80M390.40,1242.20v18.80M383.75,1244.95l13.29,13.29M383.75,1258.25l13.29,-13.29M422.80,1295.40h18.80M432.20,1286.00v18.80M425.55,1288.75l13.29,13.29M425.55,1302.05l13.29,-13.29M461.70,1212.70h18.80M471.10,1203.30v18.80M464.45,1206.05l13.29,13.29M464.45,1219.35l13.29,-13.29M514.40,1219.00h18.80M523.80,1209.60v18.80M517.15,1212.35l13.29,13.29M517.15,1225.65l13.29,-13.29M569.60,1161.30h18.80M579.00,1151.90v18.80M572.35,1154.65l13.29,13.29M572.35,1167.95l13.29,-13.29M634.10,1150.60h18.80M643.50,1141.20v18.80M636.85,1143.95l13.29,13.29M636.85,1157.25l13.29,-13.29M696.90,1213.90h18.80M706.30,1204.50v18.80M699.65,1207.25l13.29,13.29M699.65,1220.55l13.29,-13.29M752.80,1169.40h18.80M762.20,1160.00v18.80M755.55,1162.75l13.29,13.29M755.55,1176.05l13.29,-13.29M811.10,1221.50h18.80M820.50,1212.10v18.80M813.85,1214.85l13.29,13.29M813.85,1228.15l13.29,-13.29M860.50,1253.70h18.80M869.90,1244.30v18.80M863.25,1247.05l13.29,13.29M863.25,1260.35l13.29,-13.29M905.50,1220.00h18.80M914.90,1210.60v18.80M908.25,1213.35l13.29,13.29M908.25,1226.65l13.29,-13.29M954.90,1256.20h18.80M964.30,1246.80v18.80M957.65,1249.55l13.29,13.29M957.65,1262.85l13.29,-13.29M1004.30,1164.60h18.80M1013.70,1155.20v18.80M1007.05,1157.95l13.29,13.29M1007.05,1171.25l13.29,-13.29M1069.90,1121.30h18.80M1079.30,1111.90v18.80M1072.65,1114.65l13.29,13.29M1072.65,1127.95l13.29,-13.29M1139.20,1177.00h18.80M1148.60,1167.60v18.80M1141.95,1170.35l13.29,13.29M1141.95,1183.65l13.29,-13.29M1199.40,1184.10h18.80M1208.80,1174.70v18.80M1202.15,1177.45l13.29,13.29M1202.15,1190.75l13.29,-13.29M1253.10,1287.80h18.80M1262.50,1278.40v18.80M1255.85,1281.15l13.29,13.29M1255.85,1294.45l13.29,-13.29M1289.30,1286.60h18.80M1298.70,1277.20v18.80M1292.05,1279.95l13.29,13.29M1292.05,1293.25l13.29,-13.29M1330.60,1187.10h18.80M1340.00,1177.70v18.80M1333.35,1180.45l13.29,13.29M1333.35,1193.75l13.29,-13.29M1391.30,1178.20h18.80M1400.70,1168.80v18.80M1394.05,1171.55l13.29,13.29M1394.05,1184.85l13.29,-13.29" fill="none" stroke="#000" stroke-width="1.6"/>
<path d="M245.00,1346.00V1333.00M374.00,1346.00V1333.00M502.70,1346.00V1333.00M631.80,1346.00V1333.00M760.70,1346.00V1333.00M889.60,1346.00V1333.00M1018.60,1346.00V1333.00M1147.40,1346.00V1333.00M1276.30,1346.00V1333.00M1403.50,1346.00V1333.00M115.00,1040.40H128.80M115.00,1100.20H128.80M115.00,1158.70H128.80M115.00,1218.60H128.80M115.00,1277.20H128.80M115.00,1337.10H128.80" fill="none" stroke="#262626" stroke-width="1.5"/>
<path d="M115.00,1006.70V1346.00H1404.30" fill="none" stroke="#262626" stroke-width="1.7" stroke-linejoin="miter"/>
<text transform="translate(115.50,1384.50) scale(1,1.04)" text-anchor="middle" font-size="28.2" fill="#262626" stroke="#262626" stroke-width="0.3">0</text>
<text transform="translate(244.50,1384.50) scale(1,1.04)" text-anchor="middle" font-size="28.2" fill="#262626" stroke="#262626" stroke-width="0.3">1</text>
<text transform="translate(373.50,1384.50) scale(1,1.04)" text-anchor="middle" font-size="28.2" fill="#262626" stroke="#262626" stroke-width="0.3">2</text>
<text transform="translate(502.50,1384.50) scale(1,1.04)" text-anchor="middle" font-size="28.2" fill="#262626" stroke="#262626" stroke-width="0.3">3</text>
<text transform="translate(631.50,1384.50) scale(1,1.04)" text-anchor="middle" font-size="28.2" fill="#262626" stroke="#262626" stroke-width="0.3">4</text>
<text transform="translate(760.50,1384.50) scale(1,1.04)" text-anchor="middle" font-size="28.2" fill="#262626" stroke="#262626" stroke-width="0.3">5</text>
<text transform="translate(889.50,1384.50) scale(1,1.04)" text-anchor="middle" font-size="28.2" fill="#262626" stroke="#262626" stroke-width="0.3">6</text>
<text transform="translate(1018.50,1384.50) scale(1,1.04)" text-anchor="middle" font-size="28.2" fill="#262626" stroke="#262626" stroke-width="0.3">7</text>
<text transform="translate(1147.50,1384.50) scale(1,1.04)" text-anchor="middle" font-size="28.2" fill="#262626" stroke="#262626" stroke-width="0.3">8</text>
<text transform="translate(1276.50,1384.50) scale(1,1.04)" text-anchor="middle" font-size="28.2" fill="#262626" stroke="#262626" stroke-width="0.3">9</text>
<text transform="translate(1405.50,1384.50) scale(1,1.04)" text-anchor="middle" font-size="28.2" fill="#262626" stroke="#262626" stroke-width="0.3">10</text>
<text transform="translate(105.60,1050.20) scale(1,1.04)" text-anchor="end" font-size="28.2" fill="#262626" stroke="#262626" stroke-width="0.3">0.7</text>
<text transform="translate(105.60,1110.00) scale(1,1.04)" text-anchor="end" font-size="28.2" fill="#262626" stroke="#262626" stroke-width="0.3">0.6</text>
<text transform="translate(105.60,1168.50) scale(1,1.04)" text-anchor="end" font-size="28.2" fill="#262626" stroke="#262626" stroke-width="0.3">0.5</text>
<text transform="translate(105.60,1228.40) scale(1,1.04)" text-anchor="end" font-size="28.2" fill="#262626" stroke="#262626" stroke-width="0.3">0.4</text>
<text transform="translate(105.60,1287.00) scale(1,1.04)" text-anchor="end" font-size="28.2" fill="#262626" stroke="#262626" stroke-width="0.3">0.3</text>
<text transform="translate(105.60,1346.90) scale(1,1.04)" text-anchor="end" font-size="28.2" fill="#262626" stroke="#262626" stroke-width="0.3">0.2</text>
<text transform="translate(53.20,1175.30) rotate(-90) scale(1,1.015)" text-anchor="middle" font-size="31" fill="#262626" stroke="#262626" stroke-width="0.3">Duration of cycle (s)</text>
<text transform="translate(760.00,1424.50) scale(1,1.015)" text-anchor="middle" font-size="31.3" fill="#262626" stroke="#262626" stroke-width="0.3">Time (s)</text>
<text transform="translate(0.80,989.10) scale(1,1.05)" font-size="41.6" font-weight="bold" fill="#000">C</text>
<rect x="746.4" y="1002.5" width="3.4" height="1.4" rx="0.6" fill="#dadada"/><rect x="768.3" y="1002.5" width="3.4" height="1.4" rx="0.6" fill="#dadada"/>
</svg>
</body></html>
